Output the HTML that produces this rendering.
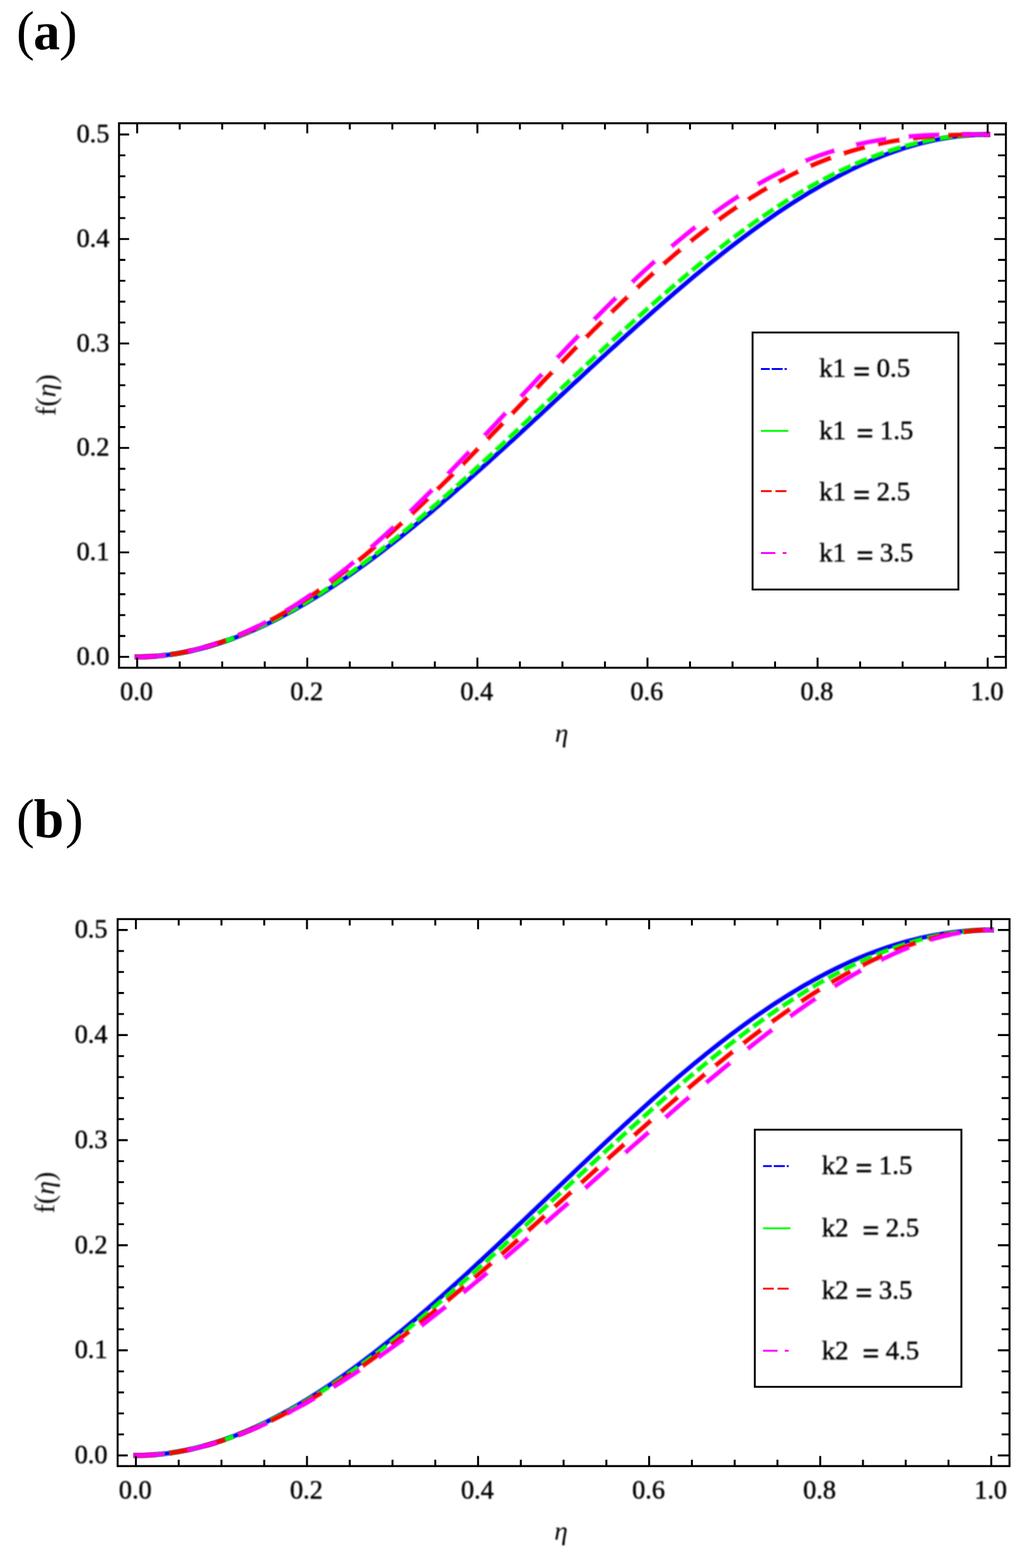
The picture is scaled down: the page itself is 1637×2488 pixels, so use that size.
<!DOCTYPE html>
<html lang="en">
<head>
<meta charset="utf-8">
<title>f(η) profiles for k1 and k2</title>
<style>
html,body{margin:0;padding:0;background:#fff;}
body{width:1637px;height:2488px;overflow:hidden;font-family:'Liberation Serif','DejaVu Serif',serif;}
svg{display:block;}
</style>
</head>
<body>
<svg width="1637" height="2488" viewBox="0 0 1637 2488">
<defs>
<filter id="softt" filterUnits="userSpaceOnUse" x="0" y="0" width="1637" height="2488"><feGaussianBlur stdDeviation="1.0"/></filter>
</defs>
<rect width="1637" height="2488" fill="#fff"/>
<g id="plot-a">
<g fill="none">
<path d="M213.2 1042.3 217.6 1042.3 223.2 1042.3 228.8 1042.1 234.5 1041.9 240.1 1041.6 245.7 1041.2 251.3 1040.8 256.9 1040.2 262.6 1039.6 268.2 1038.9 273.8 1038.1 279.4 1037.2 285.1 1036.3 290.7 1035.3 296.3 1034.2 301.9 1033.0 307.5 1031.7 313.2 1030.4 318.8 1029.0 324.4 1027.5 330.0 1026.0 335.6 1024.3 341.3 1022.7 346.9 1020.9 352.5 1019.1 358.1 1017.1 363.8 1015.2 369.4 1013.1 375.0 1011.0 380.6 1008.8 386.2 1006.6 391.9 1004.3 397.5 1001.9 403.1 999.5 408.7 997.0 414.3 994.4 420.0 991.8 425.6 989.1 431.2 986.4 436.8 983.6 442.5 980.7 448.1 977.8 453.7 974.8 459.3 971.8 464.9 968.7 470.6 965.5 476.2 962.3 481.8 959.1 487.4 955.8 493.0 952.4 498.7 949.0 504.3 945.5 509.9 942.0 515.5 938.5 521.1 934.9 526.8 931.2 532.4 927.5 538.0 923.7 543.6 919.9 549.3 916.1 554.9 912.2 560.5 908.3 566.1 904.3 571.7 900.3 577.4 896.2 583.0 892.1 588.6 888.0 594.2 883.8 599.8 879.6 605.5 875.3 611.1 871.0 616.7 866.7 622.3 862.3 628.0 857.9 633.6 853.5 639.2 849.0 644.8 844.5 650.4 840.0 656.1 835.4 661.7 830.8 667.3 826.2 672.9 821.6 678.5 816.9 684.2 812.2 689.8 807.4 695.4 802.7 701.0 797.9 706.6 793.1 712.3 788.2 717.9 783.4 723.5 778.5 729.1 773.6 734.8 768.7 740.4 763.7 746.0 758.8 751.6 753.8 757.2 748.8 762.9 743.8 768.5 738.7 774.1 733.7 779.7 728.6 785.3 723.5 791.0 718.4 796.6 713.3 802.2 708.2 807.8 703.1 813.5 698.0 819.1 692.8 824.7 687.7 830.3 682.5 835.9 677.3 841.6 672.1 847.2 666.9 852.8 661.8 858.4 656.6 864.0 651.4 869.7 646.2 875.3 640.9 880.9 635.7 886.5 630.5 892.2 625.3 897.8 620.1 903.4 614.9 909.0 609.7 914.6 604.5 920.3 599.3 925.9 594.1 931.5 588.9 937.1 583.7 942.7 578.6 948.4 573.4 954.0 568.2 959.6 563.1 965.2 557.9 970.8 552.8 976.5 547.7 982.1 542.6 987.7 537.5 993.3 532.4 999.0 527.3 1004.6 522.3 1010.2 517.2 1015.8 512.2 1021.4 507.2 1027.1 502.2 1032.7 497.3 1038.3 492.3 1043.9 487.4 1049.5 482.5 1055.2 477.6 1060.8 472.7 1066.4 467.9 1072.0 463.0 1077.7 458.2 1083.3 453.5 1088.9 448.7 1094.5 444.0 1100.1 439.3 1105.8 434.6 1111.4 430.0 1117.0 425.4 1122.6 420.8 1128.2 416.3 1133.9 411.8 1139.5 407.3 1145.1 402.8 1150.7 398.4 1156.3 394.0 1162.0 389.7 1167.6 385.4 1173.2 381.1 1178.8 376.9 1184.5 372.7 1190.1 368.5 1195.7 364.4 1201.3 360.3 1206.9 356.3 1212.6 352.3 1218.2 348.3 1223.8 344.4 1229.4 340.5 1235.0 336.7 1240.7 332.9 1246.3 329.2 1251.9 325.5 1257.5 321.8 1263.2 318.2 1268.8 314.7 1274.4 311.2 1280.0 307.7 1285.6 304.3 1291.3 301.0 1296.9 297.7 1302.5 294.5 1308.1 291.3 1313.7 288.1 1319.4 285.1 1325.0 282.0 1330.6 279.1 1336.2 276.1 1341.9 273.3 1347.5 270.5 1353.1 267.7 1358.7 265.1 1364.3 262.4 1370.0 259.9 1375.6 257.4 1381.2 255.0 1386.8 252.6 1392.4 250.3 1398.1 248.0 1403.7 245.8 1409.3 243.7 1414.9 241.7 1420.5 239.7 1426.2 237.8 1431.8 235.9 1437.4 234.1 1443.0 232.4 1448.7 230.8 1454.3 229.2 1459.9 227.7 1465.5 226.3 1471.1 224.9 1476.8 223.6 1482.4 222.4 1488.0 221.3 1493.6 220.2 1499.2 219.2 1504.9 218.3 1510.5 217.4 1516.1 216.7 1521.7 216.0 1527.4 215.4 1533.0 214.9 1538.6 214.4 1544.2 214.1 1549.8 213.8 1555.5 213.6 1561.1 213.4 1566.7 213.4 1571.0 213.4" stroke="#0000ff" stroke-width="8.6" stroke-opacity="0.5"/>
<path d="M214.9 1042.3 217.6 1042.3 223.2 1042.3 228.8 1042.1 234.5 1041.9 240.1 1041.6 245.7 1041.2 251.3 1040.8 256.9 1040.2 262.6 1039.6 268.2 1038.9 273.8 1038.1 279.4 1037.2 285.1 1036.3 290.7 1035.3 296.3 1034.2 301.9 1033.0 307.5 1031.7 313.2 1030.4 318.8 1029.0 324.4 1027.5 330.0 1026.0 335.6 1024.3 341.3 1022.7 346.9 1020.9 352.5 1019.1 358.1 1017.1 363.8 1015.2 369.4 1013.1 375.0 1011.0 380.6 1008.8 386.2 1006.6 391.9 1004.3 397.5 1001.9 403.1 999.5 408.7 997.0 414.3 994.4 420.0 991.8 425.6 989.1 431.2 986.4 436.8 983.6 442.5 980.7 448.1 977.8 453.7 974.8 459.3 971.8 464.9 968.7 470.6 965.5 476.2 962.3 481.8 959.1 487.4 955.8 493.0 952.4 498.7 949.0 504.3 945.5 509.9 942.0 515.5 938.5 521.1 934.9 526.8 931.2 532.4 927.5 538.0 923.7 543.6 919.9 549.3 916.1 554.9 912.2 560.5 908.3 566.1 904.3 571.7 900.3 577.4 896.2 583.0 892.1 588.6 888.0 594.2 883.8 599.8 879.6 605.5 875.3 611.1 871.0 616.7 866.7 622.3 862.3 628.0 857.9 633.6 853.5 639.2 849.0 644.8 844.5 650.4 840.0 656.1 835.4 661.7 830.8 667.3 826.2 672.9 821.6 678.5 816.9 684.2 812.2 689.8 807.4 695.4 802.7 701.0 797.9 706.6 793.1 712.3 788.2 717.9 783.4 723.5 778.5 729.1 773.6 734.8 768.7 740.4 763.7 746.0 758.8 751.6 753.8 757.2 748.8 762.9 743.8 768.5 738.7 774.1 733.7 779.7 728.6 785.3 723.5 791.0 718.4 796.6 713.3 802.2 708.2 807.8 703.1 813.5 698.0 819.1 692.8 824.7 687.7 830.3 682.5 835.9 677.3 841.6 672.1 847.2 666.9 852.8 661.8 858.4 656.6 864.0 651.4 869.7 646.2 875.3 640.9 880.9 635.7 886.5 630.5 892.2 625.3 897.8 620.1 903.4 614.9 909.0 609.7 914.6 604.5 920.3 599.3 925.9 594.1 931.5 588.9 937.1 583.7 942.7 578.6 948.4 573.4 954.0 568.2 959.6 563.1 965.2 557.9 970.8 552.8 976.5 547.7 982.1 542.6 987.7 537.5 993.3 532.4 999.0 527.3 1004.6 522.3 1010.2 517.2 1015.8 512.2 1021.4 507.2 1027.1 502.2 1032.7 497.3 1038.3 492.3 1043.9 487.4 1049.5 482.5 1055.2 477.6 1060.8 472.7 1066.4 467.9 1072.0 463.0 1077.7 458.2 1083.3 453.5 1088.9 448.7 1094.5 444.0 1100.1 439.3 1105.8 434.6 1111.4 430.0 1117.0 425.4 1122.6 420.8 1128.2 416.3 1133.9 411.8 1139.5 407.3 1145.1 402.8 1150.7 398.4 1156.3 394.0 1162.0 389.7 1167.6 385.4 1173.2 381.1 1178.8 376.9 1184.5 372.7 1190.1 368.5 1195.7 364.4 1201.3 360.3 1206.9 356.3 1212.6 352.3 1218.2 348.3 1223.8 344.4 1229.4 340.5 1235.0 336.7 1240.7 332.9 1246.3 329.2 1251.9 325.5 1257.5 321.8 1263.2 318.2 1268.8 314.7 1274.4 311.2 1280.0 307.7 1285.6 304.3 1291.3 301.0 1296.9 297.7 1302.5 294.5 1308.1 291.3 1313.7 288.1 1319.4 285.1 1325.0 282.0 1330.6 279.1 1336.2 276.1 1341.9 273.3 1347.5 270.5 1353.1 267.7 1358.7 265.1 1364.3 262.4 1370.0 259.9 1375.6 257.4 1381.2 255.0 1386.8 252.6 1392.4 250.3 1398.1 248.0 1403.7 245.8 1409.3 243.7 1414.9 241.7 1420.5 239.7 1426.2 237.8 1431.8 235.9 1437.4 234.1 1443.0 232.4 1448.7 230.8 1454.3 229.2 1459.9 227.7 1465.5 226.3 1471.1 224.9 1476.8 223.6 1482.4 222.4 1488.0 221.3 1493.6 220.2 1499.2 219.2 1504.9 218.3 1510.5 217.4 1516.1 216.7 1521.7 216.0 1527.4 215.4 1533.0 214.9 1538.6 214.4 1544.2 214.1 1549.8 213.8 1555.5 213.6 1561.1 213.4 1566.7 213.4 1569.4 213.4" stroke="#0000ff" stroke-width="5.2"/>
<path d="M213.2 1042.3 217.6 1042.3 223.2 1042.3 228.8 1042.1 234.5 1041.9 240.1 1041.6 245.7 1041.2 251.3 1040.8 256.9 1040.2 262.6 1039.6 268.2 1038.9 273.8 1038.1 279.4 1037.2 285.1 1036.3 290.7 1035.2 296.3 1034.1 301.9 1032.9 307.5 1031.7 313.2 1030.3 318.8 1028.9 324.4 1027.4 330.0 1025.9 335.6 1024.2 341.3 1022.5 346.9 1020.7 352.5 1018.9 358.1 1017.0 363.8 1015.0 369.4 1012.9 375.0 1010.8 380.6 1008.5 386.2 1006.3 391.9 1003.9 397.5 1001.5 403.1 999.0 408.7 996.5 414.3 993.9 420.0 991.2 425.6 988.5 431.2 985.7 436.8 982.9 442.5 979.9 448.1 977.0 453.7 973.9 459.3 970.8 464.9 967.7 470.6 964.5 476.2 961.2 481.8 957.9 487.4 954.5 493.0 951.0 498.7 947.5 504.3 944.0 509.9 940.4 515.5 936.7 521.1 933.0 526.8 929.3 532.4 925.5 538.0 921.6 543.6 917.7 549.3 913.8 554.9 909.8 560.5 905.8 566.1 901.7 571.7 897.6 577.4 893.4 583.0 889.2 588.6 884.9 594.2 880.6 599.8 876.3 605.5 871.9 611.1 867.5 616.7 863.0 622.3 858.5 628.0 854.0 633.6 849.4 639.2 844.8 644.8 840.2 650.4 835.5 656.1 830.8 661.7 826.1 667.3 821.3 672.9 816.5 678.5 811.7 684.2 806.8 689.8 802.0 695.4 797.1 701.0 792.1 706.6 787.2 712.3 782.2 717.9 777.2 723.5 772.1 729.1 767.1 734.8 762.0 740.4 756.9 746.0 751.8 751.6 746.7 757.2 741.5 762.9 736.4 768.5 731.2 774.1 726.0 779.7 720.8 785.3 715.5 791.0 710.3 796.6 705.1 802.2 699.8 807.8 694.5 813.5 689.2 819.1 684.0 824.7 678.7 830.3 673.4 835.9 668.0 841.6 662.7 847.2 657.4 852.8 652.1 858.4 646.8 864.0 641.4 869.7 636.1 875.3 630.8 880.9 625.5 886.5 620.1 892.2 614.8 897.8 609.5 903.4 604.2 909.0 598.9 914.6 593.6 920.3 588.3 925.9 583.0 931.5 577.7 937.1 572.4 942.7 567.1 948.4 561.9 954.0 556.6 959.6 551.4 965.2 546.2 970.8 541.0 976.5 535.8 982.1 530.6 987.7 525.5 993.3 520.4 999.0 515.2 1004.6 510.1 1010.2 505.1 1015.8 500.0 1021.4 495.0 1027.1 489.9 1032.7 484.9 1038.3 480.0 1043.9 475.0 1049.5 470.1 1055.2 465.2 1060.8 460.3 1066.4 455.5 1072.0 450.7 1077.7 445.9 1083.3 441.2 1088.9 436.4 1094.5 431.7 1100.1 427.1 1105.8 422.5 1111.4 417.9 1117.0 413.3 1122.6 408.8 1128.2 404.3 1133.9 399.9 1139.5 395.4 1145.1 391.1 1150.7 386.7 1156.3 382.4 1162.0 378.2 1167.6 374.0 1173.2 369.8 1178.8 365.7 1184.5 361.6 1190.1 357.5 1195.7 353.5 1201.3 349.6 1206.9 345.7 1212.6 341.8 1218.2 338.0 1223.8 334.2 1229.4 330.5 1235.0 326.8 1240.7 323.2 1246.3 319.6 1251.9 316.1 1257.5 312.6 1263.2 309.2 1268.8 305.8 1274.4 302.5 1280.0 299.2 1285.6 296.0 1291.3 292.9 1296.9 289.8 1302.5 286.7 1308.1 283.7 1313.7 280.8 1319.4 277.9 1325.0 275.1 1330.6 272.3 1336.2 269.6 1341.9 267.0 1347.5 264.4 1353.1 261.9 1358.7 259.4 1364.3 257.0 1370.0 254.6 1375.6 252.4 1381.2 250.1 1386.8 248.0 1392.4 245.9 1398.1 243.8 1403.7 241.9 1409.3 240.0 1414.9 238.1 1420.5 236.3 1426.2 234.6 1431.8 233.0 1437.4 231.4 1443.0 229.9 1448.7 228.4 1454.3 227.0 1459.9 225.7 1465.5 224.5 1471.1 223.3 1476.8 222.1 1482.4 221.1 1488.0 220.1 1493.6 219.2 1499.2 218.3 1504.9 217.5 1510.5 216.8 1516.1 216.2 1521.7 215.6 1527.4 215.1 1533.0 214.6 1538.6 214.3 1544.2 213.9 1549.8 213.7 1555.5 213.5 1561.1 213.4 1566.7 213.4 1571.0 213.4" stroke="#00ff00" stroke-width="8.6" stroke-opacity="0.5" stroke-dasharray="21.77 6.37" stroke-dashoffset="-0.50"/>
<path d="M214.9 1042.3 217.6 1042.3 223.2 1042.3 228.8 1042.1 234.5 1041.9 240.1 1041.6 245.7 1041.2 251.3 1040.8 256.9 1040.2 262.6 1039.6 268.2 1038.9 273.8 1038.1 279.4 1037.2 285.1 1036.3 290.7 1035.2 296.3 1034.1 301.9 1032.9 307.5 1031.7 313.2 1030.3 318.8 1028.9 324.4 1027.4 330.0 1025.9 335.6 1024.2 341.3 1022.5 346.9 1020.7 352.5 1018.9 358.1 1017.0 363.8 1015.0 369.4 1012.9 375.0 1010.8 380.6 1008.5 386.2 1006.3 391.9 1003.9 397.5 1001.5 403.1 999.0 408.7 996.5 414.3 993.9 420.0 991.2 425.6 988.5 431.2 985.7 436.8 982.9 442.5 979.9 448.1 977.0 453.7 973.9 459.3 970.8 464.9 967.7 470.6 964.5 476.2 961.2 481.8 957.9 487.4 954.5 493.0 951.0 498.7 947.5 504.3 944.0 509.9 940.4 515.5 936.7 521.1 933.0 526.8 929.3 532.4 925.5 538.0 921.6 543.6 917.7 549.3 913.8 554.9 909.8 560.5 905.8 566.1 901.7 571.7 897.6 577.4 893.4 583.0 889.2 588.6 884.9 594.2 880.6 599.8 876.3 605.5 871.9 611.1 867.5 616.7 863.0 622.3 858.5 628.0 854.0 633.6 849.4 639.2 844.8 644.8 840.2 650.4 835.5 656.1 830.8 661.7 826.1 667.3 821.3 672.9 816.5 678.5 811.7 684.2 806.8 689.8 802.0 695.4 797.1 701.0 792.1 706.6 787.2 712.3 782.2 717.9 777.2 723.5 772.1 729.1 767.1 734.8 762.0 740.4 756.9 746.0 751.8 751.6 746.7 757.2 741.5 762.9 736.4 768.5 731.2 774.1 726.0 779.7 720.8 785.3 715.5 791.0 710.3 796.6 705.1 802.2 699.8 807.8 694.5 813.5 689.2 819.1 684.0 824.7 678.7 830.3 673.4 835.9 668.0 841.6 662.7 847.2 657.4 852.8 652.1 858.4 646.8 864.0 641.4 869.7 636.1 875.3 630.8 880.9 625.5 886.5 620.1 892.2 614.8 897.8 609.5 903.4 604.2 909.0 598.9 914.6 593.6 920.3 588.3 925.9 583.0 931.5 577.7 937.1 572.4 942.7 567.1 948.4 561.9 954.0 556.6 959.6 551.4 965.2 546.2 970.8 541.0 976.5 535.8 982.1 530.6 987.7 525.5 993.3 520.4 999.0 515.2 1004.6 510.1 1010.2 505.1 1015.8 500.0 1021.4 495.0 1027.1 489.9 1032.7 484.9 1038.3 480.0 1043.9 475.0 1049.5 470.1 1055.2 465.2 1060.8 460.3 1066.4 455.5 1072.0 450.7 1077.7 445.9 1083.3 441.2 1088.9 436.4 1094.5 431.7 1100.1 427.1 1105.8 422.5 1111.4 417.9 1117.0 413.3 1122.6 408.8 1128.2 404.3 1133.9 399.9 1139.5 395.4 1145.1 391.1 1150.7 386.7 1156.3 382.4 1162.0 378.2 1167.6 374.0 1173.2 369.8 1178.8 365.7 1184.5 361.6 1190.1 357.5 1195.7 353.5 1201.3 349.6 1206.9 345.7 1212.6 341.8 1218.2 338.0 1223.8 334.2 1229.4 330.5 1235.0 326.8 1240.7 323.2 1246.3 319.6 1251.9 316.1 1257.5 312.6 1263.2 309.2 1268.8 305.8 1274.4 302.5 1280.0 299.2 1285.6 296.0 1291.3 292.9 1296.9 289.8 1302.5 286.7 1308.1 283.7 1313.7 280.8 1319.4 277.9 1325.0 275.1 1330.6 272.3 1336.2 269.6 1341.9 267.0 1347.5 264.4 1353.1 261.9 1358.7 259.4 1364.3 257.0 1370.0 254.6 1375.6 252.4 1381.2 250.1 1386.8 248.0 1392.4 245.9 1398.1 243.8 1403.7 241.9 1409.3 240.0 1414.9 238.1 1420.5 236.3 1426.2 234.6 1431.8 233.0 1437.4 231.4 1443.0 229.9 1448.7 228.4 1454.3 227.0 1459.9 225.7 1465.5 224.5 1471.1 223.3 1476.8 222.1 1482.4 221.1 1488.0 220.1 1493.6 219.2 1499.2 218.3 1504.9 217.5 1510.5 216.8 1516.1 216.2 1521.7 215.6 1527.4 215.1 1533.0 214.6 1538.6 214.3 1544.2 213.9 1549.8 213.7 1555.5 213.5 1561.1 213.4 1566.7 213.4 1569.4 213.4" stroke="#00ff00" stroke-width="5.2" stroke-dasharray="18.37 9.77" stroke-dashoffset="-0.50"/>
<path d="M213.2 1042.3 217.6 1042.3 223.2 1042.3 228.8 1042.1 234.5 1041.9 240.1 1041.6 245.7 1041.2 251.3 1040.8 256.9 1040.2 262.6 1039.6 268.2 1038.9 273.8 1038.0 279.4 1037.2 285.1 1036.2 290.7 1035.1 296.3 1034.0 301.9 1032.8 307.5 1031.5 313.2 1030.1 318.8 1028.7 324.4 1027.1 330.0 1025.5 335.6 1023.8 341.3 1022.0 346.9 1020.2 352.5 1018.2 358.1 1016.2 363.8 1014.1 369.4 1011.9 375.0 1009.7 380.6 1007.4 386.2 1005.0 391.9 1002.5 397.5 999.9 403.1 997.3 408.7 994.6 414.3 991.8 420.0 989.0 425.6 986.1 431.2 983.1 436.8 980.0 442.5 976.9 448.1 973.7 453.7 970.4 459.3 967.1 464.9 963.7 470.6 960.2 476.2 956.6 481.8 953.0 487.4 949.3 493.0 945.6 498.7 941.8 504.3 937.9 509.9 934.0 515.5 930.0 521.1 925.9 526.8 921.8 532.4 917.7 538.0 913.4 543.6 909.1 549.3 904.8 554.9 900.4 560.5 895.9 566.1 891.4 571.7 886.9 577.4 882.2 583.0 877.6 588.6 872.8 594.2 868.1 599.8 863.3 605.5 858.4 611.1 853.5 616.7 848.5 622.3 843.5 628.0 838.5 633.6 833.4 639.2 828.3 644.8 823.1 650.4 817.9 656.1 812.7 661.7 807.4 667.3 802.1 672.9 796.7 678.5 791.3 684.2 785.9 689.8 780.5 695.4 775.0 701.0 769.5 706.6 764.0 712.3 758.4 717.9 752.8 723.5 747.2 729.1 741.6 734.8 735.9 740.4 730.2 746.0 724.5 751.6 718.8 757.2 713.1 762.9 707.3 768.5 701.6 774.1 695.8 779.7 690.0 785.3 684.2 791.0 678.4 796.6 672.6 802.2 666.8 807.8 660.9 813.5 655.1 819.1 649.3 824.7 643.4 830.3 637.6 835.9 631.7 841.6 625.9 847.2 620.0 852.8 614.2 858.4 608.4 864.0 602.6 869.7 596.7 875.3 590.9 880.9 585.1 886.5 579.3 892.2 573.6 897.8 567.8 903.4 562.1 909.0 556.3 914.6 550.6 920.3 544.9 925.9 539.2 931.5 533.6 937.1 528.0 942.7 522.3 948.4 516.8 954.0 511.2 959.6 505.7 965.2 500.2 970.8 494.7 976.5 489.2 982.1 483.8 987.7 478.4 993.3 473.1 999.0 467.8 1004.6 462.5 1010.2 457.3 1015.8 452.1 1021.4 446.9 1027.1 441.8 1032.7 436.7 1038.3 431.6 1043.9 426.6 1049.5 421.7 1055.2 416.8 1060.8 411.9 1066.4 407.1 1072.0 402.3 1077.7 397.6 1083.3 392.9 1088.9 388.3 1094.5 383.7 1100.1 379.2 1105.8 374.7 1111.4 370.3 1117.0 366.0 1122.6 361.7 1128.2 357.4 1133.9 353.2 1139.5 349.1 1145.1 345.0 1150.7 341.0 1156.3 337.0 1162.0 333.1 1167.6 329.3 1173.2 325.5 1178.8 321.8 1184.5 318.1 1190.1 314.5 1195.7 311.0 1201.3 307.6 1206.9 304.1 1212.6 300.8 1218.2 297.5 1223.8 294.3 1229.4 291.2 1235.0 288.1 1240.7 285.1 1246.3 282.2 1251.9 279.3 1257.5 276.5 1263.2 273.7 1268.8 271.0 1274.4 268.4 1280.0 265.9 1285.6 263.4 1291.3 261.0 1296.9 258.6 1302.5 256.4 1308.1 254.2 1313.7 252.0 1319.4 249.9 1325.0 247.9 1330.6 246.0 1336.2 244.1 1341.9 242.3 1347.5 240.5 1353.1 238.8 1358.7 237.2 1364.3 235.6 1370.0 234.1 1375.6 232.7 1381.2 231.3 1386.8 230.0 1392.4 228.7 1398.1 227.5 1403.7 226.4 1409.3 225.3 1414.9 224.3 1420.5 223.3 1426.2 222.4 1431.8 221.5 1437.4 220.7 1443.0 219.9 1448.7 219.2 1454.3 218.6 1459.9 218.0 1465.5 217.4 1471.1 216.9 1476.8 216.4 1482.4 216.0 1488.0 215.6 1493.6 215.2 1499.2 214.9 1504.9 214.6 1510.5 214.4 1516.1 214.2 1521.7 214.0 1527.4 213.8 1533.0 213.7 1538.6 213.6 1544.2 213.5 1549.8 213.5 1555.5 213.4 1561.1 213.4 1566.7 213.4 1571.0 213.4" stroke="#ff0000" stroke-width="8.6" stroke-opacity="0.5" stroke-dasharray="35.84 20.44" stroke-dashoffset="-0.50"/>
<path d="M214.9 1042.3 217.6 1042.3 223.2 1042.3 228.8 1042.1 234.5 1041.9 240.1 1041.6 245.7 1041.2 251.3 1040.8 256.9 1040.2 262.6 1039.6 268.2 1038.9 273.8 1038.0 279.4 1037.2 285.1 1036.2 290.7 1035.1 296.3 1034.0 301.9 1032.8 307.5 1031.5 313.2 1030.1 318.8 1028.7 324.4 1027.1 330.0 1025.5 335.6 1023.8 341.3 1022.0 346.9 1020.2 352.5 1018.2 358.1 1016.2 363.8 1014.1 369.4 1011.9 375.0 1009.7 380.6 1007.4 386.2 1005.0 391.9 1002.5 397.5 999.9 403.1 997.3 408.7 994.6 414.3 991.8 420.0 989.0 425.6 986.1 431.2 983.1 436.8 980.0 442.5 976.9 448.1 973.7 453.7 970.4 459.3 967.1 464.9 963.7 470.6 960.2 476.2 956.6 481.8 953.0 487.4 949.3 493.0 945.6 498.7 941.8 504.3 937.9 509.9 934.0 515.5 930.0 521.1 925.9 526.8 921.8 532.4 917.7 538.0 913.4 543.6 909.1 549.3 904.8 554.9 900.4 560.5 895.9 566.1 891.4 571.7 886.9 577.4 882.2 583.0 877.6 588.6 872.8 594.2 868.1 599.8 863.3 605.5 858.4 611.1 853.5 616.7 848.5 622.3 843.5 628.0 838.5 633.6 833.4 639.2 828.3 644.8 823.1 650.4 817.9 656.1 812.7 661.7 807.4 667.3 802.1 672.9 796.7 678.5 791.3 684.2 785.9 689.8 780.5 695.4 775.0 701.0 769.5 706.6 764.0 712.3 758.4 717.9 752.8 723.5 747.2 729.1 741.6 734.8 735.9 740.4 730.2 746.0 724.5 751.6 718.8 757.2 713.1 762.9 707.3 768.5 701.6 774.1 695.8 779.7 690.0 785.3 684.2 791.0 678.4 796.6 672.6 802.2 666.8 807.8 660.9 813.5 655.1 819.1 649.3 824.7 643.4 830.3 637.6 835.9 631.7 841.6 625.9 847.2 620.0 852.8 614.2 858.4 608.4 864.0 602.6 869.7 596.7 875.3 590.9 880.9 585.1 886.5 579.3 892.2 573.6 897.8 567.8 903.4 562.1 909.0 556.3 914.6 550.6 920.3 544.9 925.9 539.2 931.5 533.6 937.1 528.0 942.7 522.3 948.4 516.8 954.0 511.2 959.6 505.7 965.2 500.2 970.8 494.7 976.5 489.2 982.1 483.8 987.7 478.4 993.3 473.1 999.0 467.8 1004.6 462.5 1010.2 457.3 1015.8 452.1 1021.4 446.9 1027.1 441.8 1032.7 436.7 1038.3 431.6 1043.9 426.6 1049.5 421.7 1055.2 416.8 1060.8 411.9 1066.4 407.1 1072.0 402.3 1077.7 397.6 1083.3 392.9 1088.9 388.3 1094.5 383.7 1100.1 379.2 1105.8 374.7 1111.4 370.3 1117.0 366.0 1122.6 361.7 1128.2 357.4 1133.9 353.2 1139.5 349.1 1145.1 345.0 1150.7 341.0 1156.3 337.0 1162.0 333.1 1167.6 329.3 1173.2 325.5 1178.8 321.8 1184.5 318.1 1190.1 314.5 1195.7 311.0 1201.3 307.6 1206.9 304.1 1212.6 300.8 1218.2 297.5 1223.8 294.3 1229.4 291.2 1235.0 288.1 1240.7 285.1 1246.3 282.2 1251.9 279.3 1257.5 276.5 1263.2 273.7 1268.8 271.0 1274.4 268.4 1280.0 265.9 1285.6 263.4 1291.3 261.0 1296.9 258.6 1302.5 256.4 1308.1 254.2 1313.7 252.0 1319.4 249.9 1325.0 247.9 1330.6 246.0 1336.2 244.1 1341.9 242.3 1347.5 240.5 1353.1 238.8 1358.7 237.2 1364.3 235.6 1370.0 234.1 1375.6 232.7 1381.2 231.3 1386.8 230.0 1392.4 228.7 1398.1 227.5 1403.7 226.4 1409.3 225.3 1414.9 224.3 1420.5 223.3 1426.2 222.4 1431.8 221.5 1437.4 220.7 1443.0 219.9 1448.7 219.2 1454.3 218.6 1459.9 218.0 1465.5 217.4 1471.1 216.9 1476.8 216.4 1482.4 216.0 1488.0 215.6 1493.6 215.2 1499.2 214.9 1504.9 214.6 1510.5 214.4 1516.1 214.2 1521.7 214.0 1527.4 213.8 1533.0 213.7 1538.6 213.6 1544.2 213.5 1549.8 213.5 1555.5 213.4 1561.1 213.4 1566.7 213.4 1569.4 213.4" stroke="#ff0000" stroke-width="5.2" stroke-dasharray="32.44 23.84" stroke-dashoffset="-0.50"/>
<path d="M213.2 1042.3 217.6 1042.3 223.2 1042.3 228.8 1042.1 234.5 1041.9 240.1 1041.6 245.7 1041.2 251.3 1040.8 256.9 1040.2 262.6 1039.6 268.2 1038.8 273.8 1038.0 279.4 1037.1 285.1 1036.2 290.7 1035.1 296.3 1034.0 301.9 1032.7 307.5 1031.4 313.2 1030.0 318.8 1028.6 324.4 1027.0 330.0 1025.4 335.6 1023.6 341.3 1021.8 346.9 1020.0 352.5 1018.0 358.1 1015.9 363.8 1013.8 369.4 1011.6 375.0 1009.3 380.6 1007.0 386.2 1004.5 391.9 1002.0 397.5 999.4 403.1 996.7 408.7 994.0 414.3 991.1 420.0 988.2 425.6 985.2 431.2 982.2 436.8 979.0 442.5 975.8 448.1 972.5 453.7 969.2 459.3 965.8 464.9 962.3 470.6 958.7 476.2 955.0 481.8 951.3 487.4 947.6 493.0 943.7 498.7 939.8 504.3 935.8 509.9 931.8 515.5 927.7 521.1 923.5 526.8 919.2 532.4 914.9 538.0 910.6 543.6 906.1 549.3 901.7 554.9 897.1 560.5 892.5 566.1 887.9 571.7 883.1 577.4 878.4 583.0 873.5 588.6 868.7 594.2 863.7 599.8 858.8 605.5 853.7 611.1 848.6 616.7 843.5 622.3 838.3 628.0 833.1 633.6 827.9 639.2 822.6 644.8 817.2 650.4 811.8 656.1 806.4 661.7 800.9 667.3 795.4 672.9 789.9 678.5 784.3 684.2 778.7 689.8 773.0 695.4 767.4 701.0 761.7 706.6 755.9 712.3 750.2 717.9 744.4 723.5 738.6 729.1 732.7 734.8 726.9 740.4 721.0 746.0 715.1 751.6 709.2 757.2 703.2 762.9 697.3 768.5 691.3 774.1 685.3 779.7 679.4 785.3 673.4 791.0 667.3 796.6 661.3 802.2 655.3 807.8 649.3 813.5 643.3 819.1 637.2 824.7 631.2 830.3 625.2 835.9 619.1 841.6 613.1 847.2 607.1 852.8 601.1 858.4 595.1 864.0 589.1 869.7 583.1 875.3 577.1 880.9 571.1 886.5 565.2 892.2 559.3 897.8 553.3 903.4 547.4 909.0 541.6 914.6 535.7 920.3 529.9 925.9 524.1 931.5 518.3 937.1 512.5 942.7 506.8 948.4 501.1 954.0 495.4 959.6 489.8 965.2 484.2 970.8 478.6 976.5 473.1 982.1 467.6 987.7 462.1 993.3 456.7 999.0 451.3 1004.6 446.0 1010.2 440.7 1015.8 435.4 1021.4 430.2 1027.1 425.1 1032.7 419.9 1038.3 414.9 1043.9 409.8 1049.5 404.9 1055.2 400.0 1060.8 395.1 1066.4 390.3 1072.0 385.5 1077.7 380.8 1083.3 376.2 1088.9 371.6 1094.5 367.1 1100.1 362.6 1105.8 358.2 1111.4 353.8 1117.0 349.5 1122.6 345.3 1128.2 341.1 1133.9 337.0 1139.5 333.0 1145.1 329.0 1150.7 325.1 1156.3 321.3 1162.0 317.5 1167.6 313.8 1173.2 310.1 1178.8 306.6 1184.5 303.1 1190.1 299.6 1195.7 296.3 1201.3 293.0 1206.9 289.7 1212.6 286.6 1218.2 283.5 1223.8 280.5 1229.4 277.6 1235.0 274.7 1240.7 271.9 1246.3 269.2 1251.9 266.5 1257.5 263.9 1263.2 261.4 1268.8 259.0 1274.4 256.6 1280.0 254.3 1285.6 252.1 1291.3 249.9 1296.9 247.8 1302.5 245.8 1308.1 243.9 1313.7 242.0 1319.4 240.2 1325.0 238.5 1330.6 236.8 1336.2 235.2 1341.9 233.7 1347.5 232.2 1353.1 230.8 1358.7 229.5 1364.3 228.2 1370.0 227.0 1375.6 225.8 1381.2 224.7 1386.8 223.7 1392.4 222.8 1398.1 221.8 1403.7 221.0 1409.3 220.2 1414.9 219.4 1420.5 218.8 1426.2 218.1 1431.8 217.5 1437.4 217.0 1443.0 216.5 1448.7 216.0 1454.3 215.6 1459.9 215.3 1465.5 214.9 1471.1 214.6 1476.8 214.4 1482.4 214.2 1488.0 214.0 1493.6 213.8 1499.2 213.7 1504.9 213.6 1510.5 213.5 1516.1 213.5 1521.7 213.4 1527.4 213.4 1533.0 213.4 1538.6 213.4 1544.2 213.4 1549.8 213.4 1555.5 213.4 1561.1 213.4 1566.7 213.4 1571.0 213.4" stroke="#ff00ff" stroke-width="8.6" stroke-opacity="0.5" stroke-dasharray="49.90 34.50" stroke-dashoffset="-0.50"/>
<path d="M214.9 1042.3 217.6 1042.3 223.2 1042.3 228.8 1042.1 234.5 1041.9 240.1 1041.6 245.7 1041.2 251.3 1040.8 256.9 1040.2 262.6 1039.6 268.2 1038.8 273.8 1038.0 279.4 1037.1 285.1 1036.2 290.7 1035.1 296.3 1034.0 301.9 1032.7 307.5 1031.4 313.2 1030.0 318.8 1028.6 324.4 1027.0 330.0 1025.4 335.6 1023.6 341.3 1021.8 346.9 1020.0 352.5 1018.0 358.1 1015.9 363.8 1013.8 369.4 1011.6 375.0 1009.3 380.6 1007.0 386.2 1004.5 391.9 1002.0 397.5 999.4 403.1 996.7 408.7 994.0 414.3 991.1 420.0 988.2 425.6 985.2 431.2 982.2 436.8 979.0 442.5 975.8 448.1 972.5 453.7 969.2 459.3 965.8 464.9 962.3 470.6 958.7 476.2 955.0 481.8 951.3 487.4 947.6 493.0 943.7 498.7 939.8 504.3 935.8 509.9 931.8 515.5 927.7 521.1 923.5 526.8 919.2 532.4 914.9 538.0 910.6 543.6 906.1 549.3 901.7 554.9 897.1 560.5 892.5 566.1 887.9 571.7 883.1 577.4 878.4 583.0 873.5 588.6 868.7 594.2 863.7 599.8 858.8 605.5 853.7 611.1 848.6 616.7 843.5 622.3 838.3 628.0 833.1 633.6 827.9 639.2 822.6 644.8 817.2 650.4 811.8 656.1 806.4 661.7 800.9 667.3 795.4 672.9 789.9 678.5 784.3 684.2 778.7 689.8 773.0 695.4 767.4 701.0 761.7 706.6 755.9 712.3 750.2 717.9 744.4 723.5 738.6 729.1 732.7 734.8 726.9 740.4 721.0 746.0 715.1 751.6 709.2 757.2 703.2 762.9 697.3 768.5 691.3 774.1 685.3 779.7 679.4 785.3 673.4 791.0 667.3 796.6 661.3 802.2 655.3 807.8 649.3 813.5 643.3 819.1 637.2 824.7 631.2 830.3 625.2 835.9 619.1 841.6 613.1 847.2 607.1 852.8 601.1 858.4 595.1 864.0 589.1 869.7 583.1 875.3 577.1 880.9 571.1 886.5 565.2 892.2 559.3 897.8 553.3 903.4 547.4 909.0 541.6 914.6 535.7 920.3 529.9 925.9 524.1 931.5 518.3 937.1 512.5 942.7 506.8 948.4 501.1 954.0 495.4 959.6 489.8 965.2 484.2 970.8 478.6 976.5 473.1 982.1 467.6 987.7 462.1 993.3 456.7 999.0 451.3 1004.6 446.0 1010.2 440.7 1015.8 435.4 1021.4 430.2 1027.1 425.1 1032.7 419.9 1038.3 414.9 1043.9 409.8 1049.5 404.9 1055.2 400.0 1060.8 395.1 1066.4 390.3 1072.0 385.5 1077.7 380.8 1083.3 376.2 1088.9 371.6 1094.5 367.1 1100.1 362.6 1105.8 358.2 1111.4 353.8 1117.0 349.5 1122.6 345.3 1128.2 341.1 1133.9 337.0 1139.5 333.0 1145.1 329.0 1150.7 325.1 1156.3 321.3 1162.0 317.5 1167.6 313.8 1173.2 310.1 1178.8 306.6 1184.5 303.1 1190.1 299.6 1195.7 296.3 1201.3 293.0 1206.9 289.7 1212.6 286.6 1218.2 283.5 1223.8 280.5 1229.4 277.6 1235.0 274.7 1240.7 271.9 1246.3 269.2 1251.9 266.5 1257.5 263.9 1263.2 261.4 1268.8 259.0 1274.4 256.6 1280.0 254.3 1285.6 252.1 1291.3 249.9 1296.9 247.8 1302.5 245.8 1308.1 243.9 1313.7 242.0 1319.4 240.2 1325.0 238.5 1330.6 236.8 1336.2 235.2 1341.9 233.7 1347.5 232.2 1353.1 230.8 1358.7 229.5 1364.3 228.2 1370.0 227.0 1375.6 225.8 1381.2 224.7 1386.8 223.7 1392.4 222.8 1398.1 221.8 1403.7 221.0 1409.3 220.2 1414.9 219.4 1420.5 218.8 1426.2 218.1 1431.8 217.5 1437.4 217.0 1443.0 216.5 1448.7 216.0 1454.3 215.6 1459.9 215.3 1465.5 214.9 1471.1 214.6 1476.8 214.4 1482.4 214.2 1488.0 214.0 1493.6 213.8 1499.2 213.7 1504.9 213.6 1510.5 213.5 1516.1 213.5 1521.7 213.4 1527.4 213.4 1533.0 213.4 1538.6 213.4 1544.2 213.4 1549.8 213.4 1555.5 213.4 1561.1 213.4 1566.7 213.4 1569.4 213.4" stroke="#ff00ff" stroke-width="5.2" stroke-dasharray="46.50 37.90" stroke-dashoffset="-0.50"/>
</g>
<rect x="188.8" y="195.6" width="1406.8" height="863.9" fill="none" stroke="#000" stroke-width="3.2"/>
<path d="M217.6 1059.5v-16M217.6 195.6v16M285.06 1059.5v-10M285.06 195.6v10M352.51 1059.5v-10M352.51 195.6v10M419.97 1059.5v-10M419.97 195.6v10M487.42 1059.5v-16M487.42 195.6v16M554.88 1059.5v-10M554.88 195.6v10M622.33 1059.5v-10M622.33 195.6v10M689.79 1059.5v-10M689.79 195.6v10M757.24 1059.5v-16M757.24 195.6v16M824.7 1059.5v-10M824.7 195.6v10M892.15 1059.5v-10M892.15 195.6v10M959.61 1059.5v-10M959.61 195.6v10M1027.06 1059.5v-16M1027.06 195.6v16M1094.52 1059.5v-10M1094.52 195.6v10M1161.97 1059.5v-10M1161.97 195.6v10M1229.42 1059.5v-10M1229.42 195.6v10M1296.88 1059.5v-16M1296.88 195.6v16M1364.34 1059.5v-10M1364.34 195.6v10M1431.79 1059.5v-10M1431.79 195.6v10M1499.25 1059.5v-10M1499.25 195.6v10M1566.7 1059.5v-16M1566.7 195.6v16M188.8 1042.3h16M1595.6 1042.3h-18.5M188.8 1009.14h10M1595.6 1009.14h-12.5M188.8 975.99h10M1595.6 975.99h-12.5M188.8 942.83h10M1595.6 942.83h-12.5M188.8 909.68h10M1595.6 909.68h-12.5M188.8 876.52h16M1595.6 876.52h-18.5M188.8 843.36h10M1595.6 843.36h-12.5M188.8 810.21h10M1595.6 810.21h-12.5M188.8 777.05h10M1595.6 777.05h-12.5M188.8 743.9h10M1595.6 743.9h-12.5M188.8 710.74h16M1595.6 710.74h-18.5M188.8 677.58h10M1595.6 677.58h-12.5M188.8 644.43h10M1595.6 644.43h-12.5M188.8 611.27h10M1595.6 611.27h-12.5M188.8 578.12h10M1595.6 578.12h-12.5M188.8 544.96h16M1595.6 544.96h-18.5M188.8 511.8h10M1595.6 511.8h-12.5M188.8 478.65h10M1595.6 478.65h-12.5M188.8 445.49h10M1595.6 445.49h-12.5M188.8 412.34h10M1595.6 412.34h-12.5M188.8 379.18h16M1595.6 379.18h-18.5M188.8 346.02h10M1595.6 346.02h-12.5M188.8 312.87h10M1595.6 312.87h-12.5M188.8 279.71h10M1595.6 279.71h-12.5M188.8 246.56h10M1595.6 246.56h-12.5M188.8 213.4h16M1595.6 213.4h-18.5" fill="none" stroke="#000" stroke-width="3.1"/>
<g font-family="'Liberation Serif','DejaVu Serif',serif" font-size="42.5" fill="#000" stroke="#000" stroke-width="0.7" filter="url(#softt)">
<text transform="translate(216.6 1110.8) scale(0.98 1)" text-anchor="middle">0.0</text>
<text transform="translate(486.42 1110.8) scale(0.98 1)" text-anchor="middle">0.2</text>
<text transform="translate(756.24 1110.8) scale(0.98 1)" text-anchor="middle">0.4</text>
<text transform="translate(1026.06 1110.8) scale(0.98 1)" text-anchor="middle">0.6</text>
<text transform="translate(1295.88 1110.8) scale(0.98 1)" text-anchor="middle">0.8</text>
<text transform="translate(1565.7 1110.8) scale(0.98 1)" text-anchor="middle">1.0</text>
<text transform="translate(173.6 1055) scale(0.98 1)" text-anchor="end">0.0</text>
<text transform="translate(173.6 889.22) scale(0.98 1)" text-anchor="end">0.1</text>
<text transform="translate(173.6 723.44) scale(0.98 1)" text-anchor="end">0.2</text>
<text transform="translate(173.6 557.66) scale(0.98 1)" text-anchor="end">0.3</text>
<text transform="translate(173.6 391.88) scale(0.98 1)" text-anchor="end">0.4</text>
<text transform="translate(173.6 226.1) scale(0.98 1)" text-anchor="end">0.5</text>
<text x="891" y="1176.5" text-anchor="middle" font-style="italic" font-size="43" stroke="none">η</text>
<text transform="translate(88 626.8) rotate(-90)" text-anchor="middle" font-size="44" stroke="none">f(<tspan font-style="italic">η</tspan>)</text>
</g>
<rect x="1193.8" y="527.6" width="326.4" height="407.8" fill="#fff" stroke="#000" stroke-width="3"/>
<g fill="none" stroke-width="3">
<path d="M1207 585.6h41" stroke="#0000ff" stroke-dasharray="14 3 17.5 3 3.5 100"/>
<path d="M1207 683.7h43.5" stroke="#00ff00"/>
<path d="M1207 779.2h41" stroke="#ff0000" stroke-dasharray="17 6 17.5 100"/>
<path d="M1207 877.4h41" stroke="#ff00ff" stroke-dasharray="23 11.5 6 100"/>
</g>
<g font-family="'Liberation Serif','DejaVu Serif',serif" font-size="42.5" fill="#000" stroke="#000" stroke-width="0.7" filter="url(#softt)">
<text x="1299.4" y="598.3"><tspan>k1</tspan> <tspan x="1353.35" y="604.5" font-weight="bold" font-size="48" stroke-width="0.4">=</tspan> <tspan x="1390.6" y="598.3">0.5</tspan></text>
<text x="1299.4" y="696.7"><tspan>k1</tspan> <tspan x="1358.45" y="702.9" font-weight="bold" font-size="48" stroke-width="0.4">=</tspan> <tspan x="1395.7" y="696.7">1.5</tspan></text>
<text x="1299.4" y="794.4"><tspan>k1</tspan> <tspan x="1353.35" y="800.6" font-weight="bold" font-size="48" stroke-width="0.4">=</tspan> <tspan x="1390.6" y="794.4">2.5</tspan></text>
<text x="1299.4" y="890.7"><tspan>k1</tspan> <tspan x="1358.45" y="896.9" font-weight="bold" font-size="48" stroke-width="0.4">=</tspan> <tspan x="1395.7" y="890.7">3.5</tspan></text>
</g>
<text y="77.7" font-family="'Liberation Serif','DejaVu Serif',serif" font-size="86" fill="#000"><tspan x="26">(</tspan><tspan x="52.9" font-weight="bold" font-size="84.5">a</tspan><tspan x="94.1">)</tspan></text>
</g>
<g id="plot-b">
<g fill="none">
<path d="M211.2 2309.4 215.6 2309.4 221.3 2309.4 226.9 2309.2 232.6 2309.0 238.2 2308.7 243.9 2308.3 249.5 2307.9 255.2 2307.3 260.8 2306.7 266.5 2306.0 272.1 2305.2 277.8 2304.3 283.4 2303.3 289.1 2302.3 294.7 2301.2 300.4 2300.0 306.1 2298.7 311.7 2297.3 317.4 2295.9 323.0 2294.4 328.7 2292.8 334.3 2291.2 340.0 2289.5 345.6 2287.7 351.3 2285.8 356.9 2283.8 362.6 2281.8 368.2 2279.7 373.9 2277.6 379.5 2275.3 385.2 2273.0 390.9 2270.7 396.5 2268.2 402.2 2265.7 407.8 2263.2 413.5 2260.5 419.1 2257.8 424.8 2255.1 430.4 2252.2 436.1 2249.3 441.7 2246.4 447.4 2243.4 453.0 2240.3 458.7 2237.2 464.3 2234.0 470.0 2230.7 475.7 2227.4 481.3 2224.0 487.0 2220.6 492.6 2217.1 498.3 2213.5 503.9 2210.0 509.6 2206.3 515.2 2202.6 520.9 2198.8 526.5 2195.0 532.2 2191.2 537.8 2187.3 543.5 2183.3 549.1 2179.3 554.8 2175.3 560.5 2171.1 566.1 2167.0 571.8 2162.8 577.4 2158.6 583.1 2154.3 588.7 2150.0 594.4 2145.6 600.0 2141.2 605.7 2136.7 611.3 2132.2 617.0 2127.7 622.6 2123.1 628.3 2118.5 633.9 2113.9 639.6 2109.2 645.3 2104.5 650.9 2099.8 656.6 2095.0 662.2 2090.2 667.9 2085.3 673.5 2080.5 679.2 2075.6 684.8 2070.6 690.5 2065.7 696.1 2060.7 701.8 2055.7 707.4 2050.6 713.1 2045.5 718.7 2040.5 724.4 2035.3 730.1 2030.2 735.7 2025.1 741.4 2019.9 747.0 2014.7 752.7 2009.5 758.3 2004.2 764.0 1999.0 769.6 1993.7 775.3 1988.4 780.9 1983.1 786.6 1977.8 792.2 1972.5 797.9 1967.2 803.5 1961.8 809.2 1956.5 814.9 1951.1 820.5 1945.7 826.2 1940.4 831.8 1935.0 837.5 1929.6 843.1 1924.2 848.8 1918.8 854.4 1913.4 860.1 1908.0 865.7 1902.6 871.4 1897.2 877.0 1891.8 882.7 1886.4 888.3 1881.0 894.0 1875.6 899.7 1870.2 905.3 1864.8 911.0 1859.4 916.6 1854.0 922.3 1848.7 927.9 1843.3 933.6 1838.0 939.2 1832.6 944.9 1827.3 950.5 1822.0 956.2 1816.7 961.8 1811.4 967.5 1806.1 973.1 1800.9 978.8 1795.6 984.5 1790.4 990.1 1785.2 995.8 1780.0 1001.4 1774.8 1007.1 1769.7 1012.7 1764.6 1018.4 1759.5 1024.0 1754.4 1029.7 1749.3 1035.3 1744.3 1041.0 1739.3 1046.6 1734.3 1052.3 1729.4 1057.9 1724.4 1063.6 1719.5 1069.3 1714.7 1074.9 1709.8 1080.6 1705.0 1086.2 1700.3 1091.9 1695.5 1097.5 1690.8 1103.2 1686.1 1108.8 1681.5 1114.5 1676.9 1120.1 1672.3 1125.8 1667.8 1131.4 1663.3 1137.1 1658.9 1142.7 1654.4 1148.4 1650.1 1154.1 1645.7 1159.7 1641.4 1165.4 1637.2 1171.0 1633.0 1176.7 1628.8 1182.3 1624.7 1188.0 1620.6 1193.6 1616.6 1199.3 1612.6 1204.9 1608.7 1210.6 1604.8 1216.2 1601.0 1221.9 1597.2 1227.5 1593.4 1233.2 1589.7 1238.9 1586.1 1244.5 1582.5 1250.2 1579.0 1255.8 1575.5 1261.5 1572.1 1267.1 1568.7 1272.8 1565.3 1278.4 1562.1 1284.1 1558.9 1289.7 1555.7 1295.4 1552.6 1301.0 1549.5 1306.7 1546.5 1312.3 1543.6 1318.0 1540.7 1323.7 1537.9 1329.3 1535.1 1335.0 1532.4 1340.6 1529.8 1346.3 1527.2 1351.9 1524.7 1357.6 1522.2 1363.2 1519.8 1368.9 1517.5 1374.5 1515.2 1380.2 1513.0 1385.8 1510.8 1391.5 1508.7 1397.1 1506.7 1402.8 1504.7 1408.5 1502.8 1414.1 1501.0 1419.8 1499.2 1425.4 1497.5 1431.1 1495.8 1436.7 1494.2 1442.4 1492.7 1448.0 1491.3 1453.7 1489.9 1459.3 1488.5 1465.0 1487.3 1470.6 1486.1 1476.3 1484.9 1481.9 1483.9 1487.6 1482.9 1493.3 1481.9 1498.9 1481.0 1504.6 1480.2 1510.2 1479.5 1515.9 1478.8 1521.5 1478.2 1527.2 1477.7 1532.8 1477.2 1538.5 1476.8 1544.1 1476.4 1549.8 1476.1 1555.4 1475.9 1561.1 1475.7 1566.7 1475.6 1572.4 1475.6 1576.8 1475.6" stroke="#0000ff" stroke-width="8.6" stroke-opacity="0.5"/>
<path d="M212.9 2309.4 215.6 2309.4 221.3 2309.4 226.9 2309.2 232.6 2309.0 238.2 2308.7 243.9 2308.3 249.5 2307.9 255.2 2307.3 260.8 2306.7 266.5 2306.0 272.1 2305.2 277.8 2304.3 283.4 2303.3 289.1 2302.3 294.7 2301.2 300.4 2300.0 306.1 2298.7 311.7 2297.3 317.4 2295.9 323.0 2294.4 328.7 2292.8 334.3 2291.2 340.0 2289.5 345.6 2287.7 351.3 2285.8 356.9 2283.8 362.6 2281.8 368.2 2279.7 373.9 2277.6 379.5 2275.3 385.2 2273.0 390.9 2270.7 396.5 2268.2 402.2 2265.7 407.8 2263.2 413.5 2260.5 419.1 2257.8 424.8 2255.1 430.4 2252.2 436.1 2249.3 441.7 2246.4 447.4 2243.4 453.0 2240.3 458.7 2237.2 464.3 2234.0 470.0 2230.7 475.7 2227.4 481.3 2224.0 487.0 2220.6 492.6 2217.1 498.3 2213.5 503.9 2210.0 509.6 2206.3 515.2 2202.6 520.9 2198.8 526.5 2195.0 532.2 2191.2 537.8 2187.3 543.5 2183.3 549.1 2179.3 554.8 2175.3 560.5 2171.1 566.1 2167.0 571.8 2162.8 577.4 2158.6 583.1 2154.3 588.7 2150.0 594.4 2145.6 600.0 2141.2 605.7 2136.7 611.3 2132.2 617.0 2127.7 622.6 2123.1 628.3 2118.5 633.9 2113.9 639.6 2109.2 645.3 2104.5 650.9 2099.8 656.6 2095.0 662.2 2090.2 667.9 2085.3 673.5 2080.5 679.2 2075.6 684.8 2070.6 690.5 2065.7 696.1 2060.7 701.8 2055.7 707.4 2050.6 713.1 2045.5 718.7 2040.5 724.4 2035.3 730.1 2030.2 735.7 2025.1 741.4 2019.9 747.0 2014.7 752.7 2009.5 758.3 2004.2 764.0 1999.0 769.6 1993.7 775.3 1988.4 780.9 1983.1 786.6 1977.8 792.2 1972.5 797.9 1967.2 803.5 1961.8 809.2 1956.5 814.9 1951.1 820.5 1945.7 826.2 1940.4 831.8 1935.0 837.5 1929.6 843.1 1924.2 848.8 1918.8 854.4 1913.4 860.1 1908.0 865.7 1902.6 871.4 1897.2 877.0 1891.8 882.7 1886.4 888.3 1881.0 894.0 1875.6 899.7 1870.2 905.3 1864.8 911.0 1859.4 916.6 1854.0 922.3 1848.7 927.9 1843.3 933.6 1838.0 939.2 1832.6 944.9 1827.3 950.5 1822.0 956.2 1816.7 961.8 1811.4 967.5 1806.1 973.1 1800.9 978.8 1795.6 984.5 1790.4 990.1 1785.2 995.8 1780.0 1001.4 1774.8 1007.1 1769.7 1012.7 1764.6 1018.4 1759.5 1024.0 1754.4 1029.7 1749.3 1035.3 1744.3 1041.0 1739.3 1046.6 1734.3 1052.3 1729.4 1057.9 1724.4 1063.6 1719.5 1069.3 1714.7 1074.9 1709.8 1080.6 1705.0 1086.2 1700.3 1091.9 1695.5 1097.5 1690.8 1103.2 1686.1 1108.8 1681.5 1114.5 1676.9 1120.1 1672.3 1125.8 1667.8 1131.4 1663.3 1137.1 1658.9 1142.7 1654.4 1148.4 1650.1 1154.1 1645.7 1159.7 1641.4 1165.4 1637.2 1171.0 1633.0 1176.7 1628.8 1182.3 1624.7 1188.0 1620.6 1193.6 1616.6 1199.3 1612.6 1204.9 1608.7 1210.6 1604.8 1216.2 1601.0 1221.9 1597.2 1227.5 1593.4 1233.2 1589.7 1238.9 1586.1 1244.5 1582.5 1250.2 1579.0 1255.8 1575.5 1261.5 1572.1 1267.1 1568.7 1272.8 1565.3 1278.4 1562.1 1284.1 1558.9 1289.7 1555.7 1295.4 1552.6 1301.0 1549.5 1306.7 1546.5 1312.3 1543.6 1318.0 1540.7 1323.7 1537.9 1329.3 1535.1 1335.0 1532.4 1340.6 1529.8 1346.3 1527.2 1351.9 1524.7 1357.6 1522.2 1363.2 1519.8 1368.9 1517.5 1374.5 1515.2 1380.2 1513.0 1385.8 1510.8 1391.5 1508.7 1397.1 1506.7 1402.8 1504.7 1408.5 1502.8 1414.1 1501.0 1419.8 1499.2 1425.4 1497.5 1431.1 1495.8 1436.7 1494.2 1442.4 1492.7 1448.0 1491.3 1453.7 1489.9 1459.3 1488.5 1465.0 1487.3 1470.6 1486.1 1476.3 1484.9 1481.9 1483.9 1487.6 1482.9 1493.3 1481.9 1498.9 1481.0 1504.6 1480.2 1510.2 1479.5 1515.9 1478.8 1521.5 1478.2 1527.2 1477.7 1532.8 1477.2 1538.5 1476.8 1544.1 1476.4 1549.8 1476.1 1555.4 1475.9 1561.1 1475.7 1566.7 1475.6 1572.4 1475.6 1575.1 1475.6" stroke="#0000ff" stroke-width="5.2"/>
<path d="M211.2 2309.4 215.6 2309.4 221.3 2309.4 226.9 2309.2 232.6 2309.0 238.2 2308.7 243.9 2308.3 249.5 2307.9 255.2 2307.3 260.8 2306.7 266.5 2306.0 272.1 2305.2 277.8 2304.3 283.4 2303.3 289.1 2302.3 294.7 2301.2 300.4 2300.0 306.1 2298.8 311.7 2297.4 317.4 2296.0 323.0 2294.5 328.7 2293.0 334.3 2291.3 340.0 2289.6 345.6 2287.8 351.3 2286.0 356.9 2284.1 362.6 2282.1 368.2 2280.0 373.9 2277.9 379.5 2275.7 385.2 2273.4 390.9 2271.1 396.5 2268.7 402.2 2266.3 407.8 2263.7 413.5 2261.2 419.1 2258.5 424.8 2255.8 430.4 2253.0 436.1 2250.2 441.7 2247.3 447.4 2244.4 453.0 2241.4 458.7 2238.3 464.3 2235.2 470.0 2232.0 475.7 2228.8 481.3 2225.5 487.0 2222.2 492.6 2218.8 498.3 2215.3 503.9 2211.8 509.6 2208.3 515.2 2204.7 520.9 2201.0 526.5 2197.3 532.2 2193.6 537.8 2189.8 543.5 2186.0 549.1 2182.1 554.8 2178.2 560.5 2174.2 566.1 2170.2 571.8 2166.1 577.4 2162.0 583.1 2157.9 588.7 2153.7 594.4 2149.5 600.0 2145.2 605.7 2140.9 611.3 2136.5 617.0 2132.2 622.6 2127.8 628.3 2123.3 633.9 2118.8 639.6 2114.3 645.3 2109.8 650.9 2105.2 656.6 2100.6 662.2 2095.9 667.9 2091.3 673.5 2086.6 679.2 2081.8 684.8 2077.1 690.5 2072.3 696.1 2067.5 701.8 2062.6 707.4 2057.8 713.1 2052.9 718.7 2048.0 724.4 2043.0 730.1 2038.1 735.7 2033.1 741.4 2028.1 747.0 2023.1 752.7 2018.0 758.3 2013.0 764.0 2007.9 769.6 2002.8 775.3 1997.7 780.9 1992.6 786.6 1987.5 792.2 1982.3 797.9 1977.2 803.5 1972.0 809.2 1966.8 814.9 1961.6 820.5 1956.4 826.2 1951.2 831.8 1946.0 837.5 1940.8 843.1 1935.5 848.8 1930.3 854.4 1925.0 860.1 1919.8 865.7 1914.6 871.4 1909.3 877.0 1904.0 882.7 1898.8 888.3 1893.5 894.0 1888.3 899.7 1883.0 905.3 1877.8 911.0 1872.5 916.6 1867.3 922.3 1862.0 927.9 1856.8 933.6 1851.5 939.2 1846.3 944.9 1841.1 950.5 1835.9 956.2 1830.7 961.8 1825.5 967.5 1820.3 973.1 1815.1 978.8 1810.0 984.5 1804.8 990.1 1799.7 995.8 1794.6 1001.4 1789.4 1007.1 1784.4 1012.7 1779.3 1018.4 1774.2 1024.0 1769.2 1029.7 1764.2 1035.3 1759.1 1041.0 1754.2 1046.6 1749.2 1052.3 1744.3 1057.9 1739.3 1063.6 1734.4 1069.3 1729.6 1074.9 1724.7 1080.6 1719.9 1086.2 1715.1 1091.9 1710.3 1097.5 1705.6 1103.2 1700.9 1108.8 1696.2 1114.5 1691.5 1120.1 1686.9 1125.8 1682.3 1131.4 1677.8 1137.1 1673.2 1142.7 1668.7 1148.4 1664.3 1154.1 1659.8 1159.7 1655.4 1165.4 1651.1 1171.0 1646.8 1176.7 1642.5 1182.3 1638.2 1188.0 1634.0 1193.6 1629.9 1199.3 1625.7 1204.9 1621.6 1210.6 1617.6 1216.2 1613.6 1221.9 1609.6 1227.5 1605.7 1233.2 1601.8 1238.9 1598.0 1244.5 1594.2 1250.2 1590.5 1255.8 1586.8 1261.5 1583.2 1267.1 1579.6 1272.8 1576.1 1278.4 1572.6 1284.1 1569.1 1289.7 1565.7 1295.4 1562.4 1301.0 1559.1 1306.7 1555.9 1312.3 1552.7 1318.0 1549.6 1323.7 1546.5 1329.3 1543.5 1335.0 1540.6 1340.6 1537.7 1346.3 1534.8 1351.9 1532.0 1357.6 1529.3 1363.2 1526.7 1368.9 1524.1 1374.5 1521.5 1380.2 1519.0 1385.8 1516.6 1391.5 1514.3 1397.1 1512.0 1402.8 1509.8 1408.5 1507.6 1414.1 1505.5 1419.8 1503.5 1425.4 1501.5 1431.1 1499.6 1436.7 1497.8 1442.4 1496.0 1448.0 1494.3 1453.7 1492.7 1459.3 1491.1 1465.0 1489.7 1470.6 1488.2 1476.3 1486.9 1481.9 1485.6 1487.6 1484.4 1493.3 1483.3 1498.9 1482.3 1504.6 1481.3 1510.2 1480.4 1515.9 1479.6 1521.5 1478.8 1527.2 1478.2 1532.8 1477.6 1538.5 1477.0 1544.1 1476.6 1549.8 1476.2 1555.4 1476.0 1561.1 1475.8 1566.7 1475.6 1572.4 1475.6 1576.8 1475.6" stroke="#00ff00" stroke-width="8.6" stroke-opacity="0.5" stroke-dasharray="21.85 6.45" stroke-dashoffset="-0.50"/>
<path d="M212.9 2309.4 215.6 2309.4 221.3 2309.4 226.9 2309.2 232.6 2309.0 238.2 2308.7 243.9 2308.3 249.5 2307.9 255.2 2307.3 260.8 2306.7 266.5 2306.0 272.1 2305.2 277.8 2304.3 283.4 2303.3 289.1 2302.3 294.7 2301.2 300.4 2300.0 306.1 2298.8 311.7 2297.4 317.4 2296.0 323.0 2294.5 328.7 2293.0 334.3 2291.3 340.0 2289.6 345.6 2287.8 351.3 2286.0 356.9 2284.1 362.6 2282.1 368.2 2280.0 373.9 2277.9 379.5 2275.7 385.2 2273.4 390.9 2271.1 396.5 2268.7 402.2 2266.3 407.8 2263.7 413.5 2261.2 419.1 2258.5 424.8 2255.8 430.4 2253.0 436.1 2250.2 441.7 2247.3 447.4 2244.4 453.0 2241.4 458.7 2238.3 464.3 2235.2 470.0 2232.0 475.7 2228.8 481.3 2225.5 487.0 2222.2 492.6 2218.8 498.3 2215.3 503.9 2211.8 509.6 2208.3 515.2 2204.7 520.9 2201.0 526.5 2197.3 532.2 2193.6 537.8 2189.8 543.5 2186.0 549.1 2182.1 554.8 2178.2 560.5 2174.2 566.1 2170.2 571.8 2166.1 577.4 2162.0 583.1 2157.9 588.7 2153.7 594.4 2149.5 600.0 2145.2 605.7 2140.9 611.3 2136.5 617.0 2132.2 622.6 2127.8 628.3 2123.3 633.9 2118.8 639.6 2114.3 645.3 2109.8 650.9 2105.2 656.6 2100.6 662.2 2095.9 667.9 2091.3 673.5 2086.6 679.2 2081.8 684.8 2077.1 690.5 2072.3 696.1 2067.5 701.8 2062.6 707.4 2057.8 713.1 2052.9 718.7 2048.0 724.4 2043.0 730.1 2038.1 735.7 2033.1 741.4 2028.1 747.0 2023.1 752.7 2018.0 758.3 2013.0 764.0 2007.9 769.6 2002.8 775.3 1997.7 780.9 1992.6 786.6 1987.5 792.2 1982.3 797.9 1977.2 803.5 1972.0 809.2 1966.8 814.9 1961.6 820.5 1956.4 826.2 1951.2 831.8 1946.0 837.5 1940.8 843.1 1935.5 848.8 1930.3 854.4 1925.0 860.1 1919.8 865.7 1914.6 871.4 1909.3 877.0 1904.0 882.7 1898.8 888.3 1893.5 894.0 1888.3 899.7 1883.0 905.3 1877.8 911.0 1872.5 916.6 1867.3 922.3 1862.0 927.9 1856.8 933.6 1851.5 939.2 1846.3 944.9 1841.1 950.5 1835.9 956.2 1830.7 961.8 1825.5 967.5 1820.3 973.1 1815.1 978.8 1810.0 984.5 1804.8 990.1 1799.7 995.8 1794.6 1001.4 1789.4 1007.1 1784.4 1012.7 1779.3 1018.4 1774.2 1024.0 1769.2 1029.7 1764.2 1035.3 1759.1 1041.0 1754.2 1046.6 1749.2 1052.3 1744.3 1057.9 1739.3 1063.6 1734.4 1069.3 1729.6 1074.9 1724.7 1080.6 1719.9 1086.2 1715.1 1091.9 1710.3 1097.5 1705.6 1103.2 1700.9 1108.8 1696.2 1114.5 1691.5 1120.1 1686.9 1125.8 1682.3 1131.4 1677.8 1137.1 1673.2 1142.7 1668.7 1148.4 1664.3 1154.1 1659.8 1159.7 1655.4 1165.4 1651.1 1171.0 1646.8 1176.7 1642.5 1182.3 1638.2 1188.0 1634.0 1193.6 1629.9 1199.3 1625.7 1204.9 1621.6 1210.6 1617.6 1216.2 1613.6 1221.9 1609.6 1227.5 1605.7 1233.2 1601.8 1238.9 1598.0 1244.5 1594.2 1250.2 1590.5 1255.8 1586.8 1261.5 1583.2 1267.1 1579.6 1272.8 1576.1 1278.4 1572.6 1284.1 1569.1 1289.7 1565.7 1295.4 1562.4 1301.0 1559.1 1306.7 1555.9 1312.3 1552.7 1318.0 1549.6 1323.7 1546.5 1329.3 1543.5 1335.0 1540.6 1340.6 1537.7 1346.3 1534.8 1351.9 1532.0 1357.6 1529.3 1363.2 1526.7 1368.9 1524.1 1374.5 1521.5 1380.2 1519.0 1385.8 1516.6 1391.5 1514.3 1397.1 1512.0 1402.8 1509.8 1408.5 1507.6 1414.1 1505.5 1419.8 1503.5 1425.4 1501.5 1431.1 1499.6 1436.7 1497.8 1442.4 1496.0 1448.0 1494.3 1453.7 1492.7 1459.3 1491.1 1465.0 1489.7 1470.6 1488.2 1476.3 1486.9 1481.9 1485.6 1487.6 1484.4 1493.3 1483.3 1498.9 1482.3 1504.6 1481.3 1510.2 1480.4 1515.9 1479.6 1521.5 1478.8 1527.2 1478.2 1532.8 1477.6 1538.5 1477.0 1544.1 1476.6 1549.8 1476.2 1555.4 1476.0 1561.1 1475.8 1566.7 1475.6 1572.4 1475.6 1575.1 1475.6" stroke="#00ff00" stroke-width="5.2" stroke-dasharray="18.45 9.85" stroke-dashoffset="-0.50"/>
<path d="M211.2 2309.4 215.6 2309.4 221.3 2309.4 226.9 2309.2 232.6 2309.0 238.2 2308.7 243.9 2308.3 249.5 2307.9 255.2 2307.3 260.8 2306.7 266.5 2306.0 272.1 2305.2 277.8 2304.3 283.4 2303.4 289.1 2302.3 294.7 2301.2 300.4 2300.1 306.1 2298.8 311.7 2297.5 317.4 2296.1 323.0 2294.6 328.7 2293.1 334.3 2291.5 340.0 2289.8 345.6 2288.0 351.3 2286.2 356.9 2284.3 362.6 2282.4 368.2 2280.3 373.9 2278.3 379.5 2276.1 385.2 2273.9 390.9 2271.6 396.5 2269.3 402.2 2266.9 407.8 2264.4 413.5 2261.9 419.1 2259.3 424.8 2256.6 430.4 2253.9 436.1 2251.2 441.7 2248.4 447.4 2245.5 453.0 2242.6 458.7 2239.6 464.3 2236.5 470.0 2233.5 475.7 2230.3 481.3 2227.1 487.0 2223.9 492.6 2220.6 498.3 2217.3 503.9 2213.9 509.6 2210.4 515.2 2207.0 520.9 2203.4 526.5 2199.9 532.2 2196.2 537.8 2192.6 543.5 2188.9 549.1 2185.1 554.8 2181.3 560.5 2177.5 566.1 2173.6 571.8 2169.7 577.4 2165.8 583.1 2161.8 588.7 2157.8 594.4 2153.7 600.0 2149.6 605.7 2145.5 611.3 2141.3 617.0 2137.1 622.6 2132.8 628.3 2128.6 633.9 2124.3 639.6 2119.9 645.3 2115.5 650.9 2111.1 656.6 2106.7 662.2 2102.3 667.9 2097.8 673.5 2093.3 679.2 2088.7 684.8 2084.1 690.5 2079.5 696.1 2074.9 701.8 2070.3 707.4 2065.6 713.1 2060.9 718.7 2056.2 724.4 2051.5 730.1 2046.7 735.7 2041.9 741.4 2037.1 747.0 2032.3 752.7 2027.5 758.3 2022.6 764.0 2017.7 769.6 2012.9 775.3 2007.9 780.9 2003.0 786.6 1998.1 792.2 1993.1 797.9 1988.2 803.5 1983.2 809.2 1978.2 814.9 1973.2 820.5 1968.2 826.2 1963.1 831.8 1958.1 837.5 1953.1 843.1 1948.0 848.8 1942.9 854.4 1937.9 860.1 1932.8 865.7 1927.7 871.4 1922.6 877.0 1917.5 882.7 1912.4 888.3 1907.3 894.0 1902.2 899.7 1897.1 905.3 1892.0 911.0 1886.9 916.6 1881.8 922.3 1876.7 927.9 1871.6 933.6 1866.5 939.2 1861.4 944.9 1856.3 950.5 1851.2 956.2 1846.1 961.8 1841.0 967.5 1835.9 973.1 1830.8 978.8 1825.7 984.5 1820.7 990.1 1815.6 995.8 1810.6 1001.4 1805.5 1007.1 1800.5 1012.7 1795.5 1018.4 1790.5 1024.0 1785.5 1029.7 1780.5 1035.3 1775.5 1041.0 1770.5 1046.6 1765.6 1052.3 1760.7 1057.9 1755.8 1063.6 1750.9 1069.3 1746.0 1074.9 1741.1 1080.6 1736.3 1086.2 1731.4 1091.9 1726.6 1097.5 1721.9 1103.2 1717.1 1108.8 1712.4 1114.5 1707.6 1120.1 1703.0 1125.8 1698.3 1131.4 1693.6 1137.1 1689.0 1142.7 1684.4 1148.4 1679.9 1154.1 1675.3 1159.7 1670.8 1165.4 1666.3 1171.0 1661.9 1176.7 1657.5 1182.3 1653.1 1188.0 1648.7 1193.6 1644.4 1199.3 1640.1 1204.9 1635.9 1210.6 1631.7 1216.2 1627.5 1221.9 1623.3 1227.5 1619.2 1233.2 1615.2 1238.9 1611.1 1244.5 1607.1 1250.2 1603.2 1255.8 1599.3 1261.5 1595.4 1267.1 1591.6 1272.8 1587.8 1278.4 1584.1 1284.1 1580.4 1289.7 1576.8 1295.4 1573.2 1301.0 1569.7 1306.7 1566.2 1312.3 1562.7 1318.0 1559.3 1323.7 1556.0 1329.3 1552.7 1335.0 1549.5 1340.6 1546.3 1346.3 1543.2 1351.9 1540.1 1357.6 1537.1 1363.2 1534.2 1368.9 1531.3 1374.5 1528.5 1380.2 1525.7 1385.8 1523.0 1391.5 1520.4 1397.1 1517.8 1402.8 1515.3 1408.5 1512.8 1414.1 1510.5 1419.8 1508.2 1425.4 1505.9 1431.1 1503.8 1436.7 1501.7 1442.4 1499.6 1448.0 1497.7 1453.7 1495.8 1459.3 1494.0 1465.0 1492.3 1470.6 1490.6 1476.3 1489.1 1481.9 1487.6 1487.6 1486.2 1493.3 1484.9 1498.9 1483.6 1504.6 1482.5 1510.2 1481.4 1515.9 1480.4 1521.5 1479.5 1527.2 1478.7 1532.8 1478.0 1538.5 1477.4 1544.1 1476.8 1549.8 1476.4 1555.4 1476.0 1561.1 1475.8 1566.7 1475.6 1572.4 1475.6 1576.8 1475.6" stroke="#ff0000" stroke-width="8.6" stroke-opacity="0.5" stroke-dasharray="35.99 20.59" stroke-dashoffset="-0.50"/>
<path d="M212.9 2309.4 215.6 2309.4 221.3 2309.4 226.9 2309.2 232.6 2309.0 238.2 2308.7 243.9 2308.3 249.5 2307.9 255.2 2307.3 260.8 2306.7 266.5 2306.0 272.1 2305.2 277.8 2304.3 283.4 2303.4 289.1 2302.3 294.7 2301.2 300.4 2300.1 306.1 2298.8 311.7 2297.5 317.4 2296.1 323.0 2294.6 328.7 2293.1 334.3 2291.5 340.0 2289.8 345.6 2288.0 351.3 2286.2 356.9 2284.3 362.6 2282.4 368.2 2280.3 373.9 2278.3 379.5 2276.1 385.2 2273.9 390.9 2271.6 396.5 2269.3 402.2 2266.9 407.8 2264.4 413.5 2261.9 419.1 2259.3 424.8 2256.6 430.4 2253.9 436.1 2251.2 441.7 2248.4 447.4 2245.5 453.0 2242.6 458.7 2239.6 464.3 2236.5 470.0 2233.5 475.7 2230.3 481.3 2227.1 487.0 2223.9 492.6 2220.6 498.3 2217.3 503.9 2213.9 509.6 2210.4 515.2 2207.0 520.9 2203.4 526.5 2199.9 532.2 2196.2 537.8 2192.6 543.5 2188.9 549.1 2185.1 554.8 2181.3 560.5 2177.5 566.1 2173.6 571.8 2169.7 577.4 2165.8 583.1 2161.8 588.7 2157.8 594.4 2153.7 600.0 2149.6 605.7 2145.5 611.3 2141.3 617.0 2137.1 622.6 2132.8 628.3 2128.6 633.9 2124.3 639.6 2119.9 645.3 2115.5 650.9 2111.1 656.6 2106.7 662.2 2102.3 667.9 2097.8 673.5 2093.3 679.2 2088.7 684.8 2084.1 690.5 2079.5 696.1 2074.9 701.8 2070.3 707.4 2065.6 713.1 2060.9 718.7 2056.2 724.4 2051.5 730.1 2046.7 735.7 2041.9 741.4 2037.1 747.0 2032.3 752.7 2027.5 758.3 2022.6 764.0 2017.7 769.6 2012.9 775.3 2007.9 780.9 2003.0 786.6 1998.1 792.2 1993.1 797.9 1988.2 803.5 1983.2 809.2 1978.2 814.9 1973.2 820.5 1968.2 826.2 1963.1 831.8 1958.1 837.5 1953.1 843.1 1948.0 848.8 1942.9 854.4 1937.9 860.1 1932.8 865.7 1927.7 871.4 1922.6 877.0 1917.5 882.7 1912.4 888.3 1907.3 894.0 1902.2 899.7 1897.1 905.3 1892.0 911.0 1886.9 916.6 1881.8 922.3 1876.7 927.9 1871.6 933.6 1866.5 939.2 1861.4 944.9 1856.3 950.5 1851.2 956.2 1846.1 961.8 1841.0 967.5 1835.9 973.1 1830.8 978.8 1825.7 984.5 1820.7 990.1 1815.6 995.8 1810.6 1001.4 1805.5 1007.1 1800.5 1012.7 1795.5 1018.4 1790.5 1024.0 1785.5 1029.7 1780.5 1035.3 1775.5 1041.0 1770.5 1046.6 1765.6 1052.3 1760.7 1057.9 1755.8 1063.6 1750.9 1069.3 1746.0 1074.9 1741.1 1080.6 1736.3 1086.2 1731.4 1091.9 1726.6 1097.5 1721.9 1103.2 1717.1 1108.8 1712.4 1114.5 1707.6 1120.1 1703.0 1125.8 1698.3 1131.4 1693.6 1137.1 1689.0 1142.7 1684.4 1148.4 1679.9 1154.1 1675.3 1159.7 1670.8 1165.4 1666.3 1171.0 1661.9 1176.7 1657.5 1182.3 1653.1 1188.0 1648.7 1193.6 1644.4 1199.3 1640.1 1204.9 1635.9 1210.6 1631.7 1216.2 1627.5 1221.9 1623.3 1227.5 1619.2 1233.2 1615.2 1238.9 1611.1 1244.5 1607.1 1250.2 1603.2 1255.8 1599.3 1261.5 1595.4 1267.1 1591.6 1272.8 1587.8 1278.4 1584.1 1284.1 1580.4 1289.7 1576.8 1295.4 1573.2 1301.0 1569.7 1306.7 1566.2 1312.3 1562.7 1318.0 1559.3 1323.7 1556.0 1329.3 1552.7 1335.0 1549.5 1340.6 1546.3 1346.3 1543.2 1351.9 1540.1 1357.6 1537.1 1363.2 1534.2 1368.9 1531.3 1374.5 1528.5 1380.2 1525.7 1385.8 1523.0 1391.5 1520.4 1397.1 1517.8 1402.8 1515.3 1408.5 1512.8 1414.1 1510.5 1419.8 1508.2 1425.4 1505.9 1431.1 1503.8 1436.7 1501.7 1442.4 1499.6 1448.0 1497.7 1453.7 1495.8 1459.3 1494.0 1465.0 1492.3 1470.6 1490.6 1476.3 1489.1 1481.9 1487.6 1487.6 1486.2 1493.3 1484.9 1498.9 1483.6 1504.6 1482.5 1510.2 1481.4 1515.9 1480.4 1521.5 1479.5 1527.2 1478.7 1532.8 1478.0 1538.5 1477.4 1544.1 1476.8 1549.8 1476.4 1555.4 1476.0 1561.1 1475.8 1566.7 1475.6 1572.4 1475.6 1575.1 1475.6" stroke="#ff0000" stroke-width="5.2" stroke-dasharray="32.59 23.99" stroke-dashoffset="-0.50"/>
<path d="M211.2 2309.4 215.6 2309.4 221.3 2309.4 226.9 2309.2 232.6 2309.0 238.2 2308.7 243.9 2308.3 249.5 2307.9 255.2 2307.3 260.8 2306.7 266.5 2306.0 272.1 2305.2 277.8 2304.3 283.4 2303.4 289.1 2302.4 294.7 2301.3 300.4 2300.1 306.1 2298.9 311.7 2297.6 317.4 2296.2 323.0 2294.7 328.7 2293.2 334.3 2291.6 340.0 2289.9 345.6 2288.2 351.3 2286.4 356.9 2284.6 362.6 2282.6 368.2 2280.6 373.9 2278.6 379.5 2276.5 385.2 2274.3 390.9 2272.1 396.5 2269.8 402.2 2267.4 407.8 2265.0 413.5 2262.5 419.1 2260.0 424.8 2257.4 430.4 2254.8 436.1 2252.1 441.7 2249.3 447.4 2246.5 453.0 2243.7 458.7 2240.8 464.3 2237.8 470.0 2234.8 475.7 2231.8 481.3 2228.7 487.0 2225.5 492.6 2222.3 498.3 2219.1 503.9 2215.8 509.6 2212.5 515.2 2209.1 520.9 2205.7 526.5 2202.2 532.2 2198.7 537.8 2195.2 543.5 2191.6 549.1 2188.0 554.8 2184.3 560.5 2180.6 566.1 2176.9 571.8 2173.1 577.4 2169.3 583.1 2165.5 588.7 2161.6 594.4 2157.7 600.0 2153.7 605.7 2149.7 611.3 2145.7 617.0 2141.7 622.6 2137.6 628.3 2133.5 633.9 2129.3 639.6 2125.2 645.3 2121.0 650.9 2116.7 656.6 2112.5 662.2 2108.2 667.9 2103.9 673.5 2099.6 679.2 2095.2 684.8 2090.8 690.5 2086.4 696.1 2081.9 701.8 2077.5 707.4 2073.0 713.1 2068.5 718.7 2064.0 724.4 2059.4 730.1 2054.8 735.7 2050.2 741.4 2045.6 747.0 2041.0 752.7 2036.3 758.3 2031.7 764.0 2027.0 769.6 2022.3 775.3 2017.5 780.9 2012.8 786.6 2008.1 792.2 2003.3 797.9 1998.5 803.5 1993.7 809.2 1988.9 814.9 1984.1 820.5 1979.2 826.2 1974.4 831.8 1969.5 837.5 1964.6 843.1 1959.7 848.8 1954.8 854.4 1949.9 860.1 1945.0 865.7 1940.1 871.4 1935.2 877.0 1930.2 882.7 1925.3 888.3 1920.3 894.0 1915.4 899.7 1910.4 905.3 1905.4 911.0 1900.4 916.6 1895.5 922.3 1890.5 927.9 1885.5 933.6 1880.5 939.2 1875.5 944.9 1870.5 950.5 1865.5 956.2 1860.5 961.8 1855.5 967.5 1850.5 973.1 1845.5 978.8 1840.6 984.5 1835.6 990.1 1830.6 995.8 1825.6 1001.4 1820.6 1007.1 1815.6 1012.7 1810.7 1018.4 1805.7 1024.0 1800.7 1029.7 1795.8 1035.3 1790.9 1041.0 1785.9 1046.6 1781.0 1052.3 1776.1 1057.9 1771.2 1063.6 1766.3 1069.3 1761.4 1074.9 1756.5 1080.6 1751.6 1086.2 1746.8 1091.9 1742.0 1097.5 1737.1 1103.2 1732.3 1108.8 1727.6 1114.5 1722.8 1120.1 1718.0 1125.8 1713.3 1131.4 1708.6 1137.1 1703.9 1142.7 1699.2 1148.4 1694.5 1154.1 1689.9 1159.7 1685.3 1165.4 1680.7 1171.0 1676.1 1176.7 1671.6 1182.3 1667.0 1188.0 1662.6 1193.6 1658.1 1199.3 1653.7 1204.9 1649.2 1210.6 1644.9 1216.2 1640.5 1221.9 1636.2 1227.5 1631.9 1233.2 1627.7 1238.9 1623.4 1244.5 1619.3 1250.2 1615.1 1255.8 1611.0 1261.5 1606.9 1267.1 1602.9 1272.8 1598.9 1278.4 1594.9 1284.1 1591.0 1289.7 1587.2 1295.4 1583.3 1301.0 1579.6 1306.7 1575.8 1312.3 1572.1 1318.0 1568.5 1323.7 1564.9 1329.3 1561.4 1335.0 1557.9 1340.6 1554.4 1346.3 1551.1 1351.9 1547.7 1357.6 1544.5 1363.2 1541.3 1368.9 1538.1 1374.5 1535.0 1380.2 1532.0 1385.8 1529.0 1391.5 1526.1 1397.1 1523.3 1402.8 1520.5 1408.5 1517.8 1414.1 1515.1 1419.8 1512.6 1425.4 1510.1 1431.1 1507.7 1436.7 1505.3 1442.4 1503.0 1448.0 1500.8 1453.7 1498.7 1459.3 1496.7 1465.0 1494.7 1470.6 1492.9 1476.3 1491.1 1481.9 1489.4 1487.6 1487.8 1493.3 1486.3 1498.9 1484.9 1504.6 1483.5 1510.2 1482.3 1515.9 1481.2 1521.5 1480.1 1527.2 1479.2 1532.8 1478.4 1538.5 1477.7 1544.1 1477.0 1549.8 1476.5 1555.4 1476.1 1561.1 1475.8 1566.7 1475.7 1572.4 1475.6 1576.8 1475.6" stroke="#ff00ff" stroke-width="8.6" stroke-opacity="0.5" stroke-dasharray="50.14 34.74" stroke-dashoffset="-0.50"/>
<path d="M212.9 2309.4 215.6 2309.4 221.3 2309.4 226.9 2309.2 232.6 2309.0 238.2 2308.7 243.9 2308.3 249.5 2307.9 255.2 2307.3 260.8 2306.7 266.5 2306.0 272.1 2305.2 277.8 2304.3 283.4 2303.4 289.1 2302.4 294.7 2301.3 300.4 2300.1 306.1 2298.9 311.7 2297.6 317.4 2296.2 323.0 2294.7 328.7 2293.2 334.3 2291.6 340.0 2289.9 345.6 2288.2 351.3 2286.4 356.9 2284.6 362.6 2282.6 368.2 2280.6 373.9 2278.6 379.5 2276.5 385.2 2274.3 390.9 2272.1 396.5 2269.8 402.2 2267.4 407.8 2265.0 413.5 2262.5 419.1 2260.0 424.8 2257.4 430.4 2254.8 436.1 2252.1 441.7 2249.3 447.4 2246.5 453.0 2243.7 458.7 2240.8 464.3 2237.8 470.0 2234.8 475.7 2231.8 481.3 2228.7 487.0 2225.5 492.6 2222.3 498.3 2219.1 503.9 2215.8 509.6 2212.5 515.2 2209.1 520.9 2205.7 526.5 2202.2 532.2 2198.7 537.8 2195.2 543.5 2191.6 549.1 2188.0 554.8 2184.3 560.5 2180.6 566.1 2176.9 571.8 2173.1 577.4 2169.3 583.1 2165.5 588.7 2161.6 594.4 2157.7 600.0 2153.7 605.7 2149.7 611.3 2145.7 617.0 2141.7 622.6 2137.6 628.3 2133.5 633.9 2129.3 639.6 2125.2 645.3 2121.0 650.9 2116.7 656.6 2112.5 662.2 2108.2 667.9 2103.9 673.5 2099.6 679.2 2095.2 684.8 2090.8 690.5 2086.4 696.1 2081.9 701.8 2077.5 707.4 2073.0 713.1 2068.5 718.7 2064.0 724.4 2059.4 730.1 2054.8 735.7 2050.2 741.4 2045.6 747.0 2041.0 752.7 2036.3 758.3 2031.7 764.0 2027.0 769.6 2022.3 775.3 2017.5 780.9 2012.8 786.6 2008.1 792.2 2003.3 797.9 1998.5 803.5 1993.7 809.2 1988.9 814.9 1984.1 820.5 1979.2 826.2 1974.4 831.8 1969.5 837.5 1964.6 843.1 1959.7 848.8 1954.8 854.4 1949.9 860.1 1945.0 865.7 1940.1 871.4 1935.2 877.0 1930.2 882.7 1925.3 888.3 1920.3 894.0 1915.4 899.7 1910.4 905.3 1905.4 911.0 1900.4 916.6 1895.5 922.3 1890.5 927.9 1885.5 933.6 1880.5 939.2 1875.5 944.9 1870.5 950.5 1865.5 956.2 1860.5 961.8 1855.5 967.5 1850.5 973.1 1845.5 978.8 1840.6 984.5 1835.6 990.1 1830.6 995.8 1825.6 1001.4 1820.6 1007.1 1815.6 1012.7 1810.7 1018.4 1805.7 1024.0 1800.7 1029.7 1795.8 1035.3 1790.9 1041.0 1785.9 1046.6 1781.0 1052.3 1776.1 1057.9 1771.2 1063.6 1766.3 1069.3 1761.4 1074.9 1756.5 1080.6 1751.6 1086.2 1746.8 1091.9 1742.0 1097.5 1737.1 1103.2 1732.3 1108.8 1727.6 1114.5 1722.8 1120.1 1718.0 1125.8 1713.3 1131.4 1708.6 1137.1 1703.9 1142.7 1699.2 1148.4 1694.5 1154.1 1689.9 1159.7 1685.3 1165.4 1680.7 1171.0 1676.1 1176.7 1671.6 1182.3 1667.0 1188.0 1662.6 1193.6 1658.1 1199.3 1653.7 1204.9 1649.2 1210.6 1644.9 1216.2 1640.5 1221.9 1636.2 1227.5 1631.9 1233.2 1627.7 1238.9 1623.4 1244.5 1619.3 1250.2 1615.1 1255.8 1611.0 1261.5 1606.9 1267.1 1602.9 1272.8 1598.9 1278.4 1594.9 1284.1 1591.0 1289.7 1587.2 1295.4 1583.3 1301.0 1579.6 1306.7 1575.8 1312.3 1572.1 1318.0 1568.5 1323.7 1564.9 1329.3 1561.4 1335.0 1557.9 1340.6 1554.4 1346.3 1551.1 1351.9 1547.7 1357.6 1544.5 1363.2 1541.3 1368.9 1538.1 1374.5 1535.0 1380.2 1532.0 1385.8 1529.0 1391.5 1526.1 1397.1 1523.3 1402.8 1520.5 1408.5 1517.8 1414.1 1515.1 1419.8 1512.6 1425.4 1510.1 1431.1 1507.7 1436.7 1505.3 1442.4 1503.0 1448.0 1500.8 1453.7 1498.7 1459.3 1496.7 1465.0 1494.7 1470.6 1492.9 1476.3 1491.1 1481.9 1489.4 1487.6 1487.8 1493.3 1486.3 1498.9 1484.9 1504.6 1483.5 1510.2 1482.3 1515.9 1481.2 1521.5 1480.1 1527.2 1479.2 1532.8 1478.4 1538.5 1477.7 1544.1 1477.0 1549.8 1476.5 1555.4 1476.1 1561.1 1475.8 1566.7 1475.7 1572.4 1475.6 1575.1 1475.6" stroke="#ff00ff" stroke-width="5.2" stroke-dasharray="46.74 38.14" stroke-dashoffset="-0.50"/>
</g>
<rect x="186.6" y="1458.4" width="1414.7" height="867.9" fill="none" stroke="#000" stroke-width="3.2"/>
<path d="M215.6 2326.3v-16M215.6 1458.4v16M283.44 2326.3v-10M283.44 1458.4v10M351.28 2326.3v-10M351.28 1458.4v10M419.12 2326.3v-10M419.12 1458.4v10M486.96 2326.3v-16M486.96 1458.4v16M554.8 2326.3v-10M554.8 1458.4v10M622.64 2326.3v-10M622.64 1458.4v10M690.48 2326.3v-10M690.48 1458.4v10M758.32 2326.3v-16M758.32 1458.4v16M826.16 2326.3v-10M826.16 1458.4v10M894 2326.3v-10M894 1458.4v10M961.84 2326.3v-10M961.84 1458.4v10M1029.68 2326.3v-16M1029.68 1458.4v16M1097.52 2326.3v-10M1097.52 1458.4v10M1165.36 2326.3v-10M1165.36 1458.4v10M1233.2 2326.3v-10M1233.2 1458.4v10M1301.04 2326.3v-16M1301.04 1458.4v16M1368.88 2326.3v-10M1368.88 1458.4v10M1436.72 2326.3v-10M1436.72 1458.4v10M1504.56 2326.3v-10M1504.56 1458.4v10M1572.4 2326.3v-16M1572.4 1458.4v16M186.6 2309.4h16M1601.3 2309.4h-18.5M186.6 2276.05h10M1601.3 2276.05h-12.5M186.6 2242.7h10M1601.3 2242.7h-12.5M186.6 2209.34h10M1601.3 2209.34h-12.5M186.6 2175.99h10M1601.3 2175.99h-12.5M186.6 2142.64h16M1601.3 2142.64h-18.5M186.6 2109.29h10M1601.3 2109.29h-12.5M186.6 2075.94h10M1601.3 2075.94h-12.5M186.6 2042.58h10M1601.3 2042.58h-12.5M186.6 2009.23h10M1601.3 2009.23h-12.5M186.6 1975.88h16M1601.3 1975.88h-18.5M186.6 1942.53h10M1601.3 1942.53h-12.5M186.6 1909.18h10M1601.3 1909.18h-12.5M186.6 1875.82h10M1601.3 1875.82h-12.5M186.6 1842.47h10M1601.3 1842.47h-12.5M186.6 1809.12h16M1601.3 1809.12h-18.5M186.6 1775.77h10M1601.3 1775.77h-12.5M186.6 1742.42h10M1601.3 1742.42h-12.5M186.6 1709.06h10M1601.3 1709.06h-12.5M186.6 1675.71h10M1601.3 1675.71h-12.5M186.6 1642.36h16M1601.3 1642.36h-18.5M186.6 1609.01h10M1601.3 1609.01h-12.5M186.6 1575.66h10M1601.3 1575.66h-12.5M186.6 1542.3h10M1601.3 1542.3h-12.5M186.6 1508.95h10M1601.3 1508.95h-12.5M186.6 1475.6h16M1601.3 1475.6h-18.5" fill="none" stroke="#000" stroke-width="3.1"/>
<g font-family="'Liberation Serif','DejaVu Serif',serif" font-size="42.5" fill="#000" stroke="#000" stroke-width="0.7" filter="url(#softt)">
<text transform="translate(214.6 2377.5) scale(0.98 1)" text-anchor="middle">0.0</text>
<text transform="translate(485.96 2377.5) scale(0.98 1)" text-anchor="middle">0.2</text>
<text transform="translate(757.32 2377.5) scale(0.98 1)" text-anchor="middle">0.4</text>
<text transform="translate(1028.68 2377.5) scale(0.98 1)" text-anchor="middle">0.6</text>
<text transform="translate(1300.04 2377.5) scale(0.98 1)" text-anchor="middle">0.8</text>
<text transform="translate(1571.4 2377.5) scale(0.98 1)" text-anchor="middle">1.0</text>
<text transform="translate(170.6 2322.1) scale(0.98 1)" text-anchor="end">0.0</text>
<text transform="translate(170.6 2155.34) scale(0.98 1)" text-anchor="end">0.1</text>
<text transform="translate(170.6 1988.58) scale(0.98 1)" text-anchor="end">0.2</text>
<text transform="translate(170.6 1821.82) scale(0.98 1)" text-anchor="end">0.3</text>
<text transform="translate(170.6 1655.06) scale(0.98 1)" text-anchor="end">0.4</text>
<text transform="translate(170.6 1488.3) scale(0.98 1)" text-anchor="end">0.5</text>
<text x="890" y="2443" text-anchor="middle" font-style="italic" font-size="43" stroke="none">η</text>
<text transform="translate(86 1892.3) rotate(-90)" text-anchor="middle" font-size="44" stroke="none">f(<tspan font-style="italic">η</tspan>)</text>
</g>
<rect x="1197.3" y="1792.5" width="327.7" height="408" fill="#fff" stroke="#000" stroke-width="3"/>
<g fill="none" stroke-width="3">
<path d="M1210.4 1850.2h40.8" stroke="#0000ff" stroke-dasharray="14 3 17.5 3 3.5 100"/>
<path d="M1210.4 1949h43.3" stroke="#00ff00"/>
<path d="M1210.4 2044.8h40.8" stroke="#ff0000" stroke-dasharray="17 6 17.5 100"/>
<path d="M1210.4 2143.3h40.8" stroke="#ff00ff" stroke-dasharray="23 11.5 6 100"/>
</g>
<g font-family="'Liberation Serif','DejaVu Serif',serif" font-size="42.5" fill="#000" stroke="#000" stroke-width="0.7" filter="url(#softt)">
<text x="1303.5" y="1863.2"><tspan>k2</tspan> <tspan x="1356.85" y="1869.4" font-weight="bold" font-size="48" stroke-width="0.4">=</tspan> <tspan x="1394.1" y="1863.2">1.5</tspan></text>
<text x="1303.5" y="1961.6"><tspan>k2</tspan> <tspan x="1367.65" y="1967.8" font-weight="bold" font-size="48" stroke-width="0.4">=</tspan> <tspan x="1404.9" y="1961.6">2.5</tspan></text>
<text x="1303.5" y="2061.1"><tspan>k2</tspan> <tspan x="1356.85" y="2067.3" font-weight="bold" font-size="48" stroke-width="0.4">=</tspan> <tspan x="1394.1" y="2061.1">3.5</tspan></text>
<text x="1303.5" y="2156.9"><tspan>k2</tspan> <tspan x="1367.65" y="2163.1" font-weight="bold" font-size="48" stroke-width="0.4">=</tspan> <tspan x="1404.9" y="2156.9">4.5</tspan></text>
</g>
<text y="1327.7" font-family="'Liberation Serif','DejaVu Serif',serif" font-size="86" fill="#000"><tspan x="26">(</tspan><tspan x="53.56" font-weight="bold" font-size="86">b</tspan><tspan x="103.4">)</tspan></text>
</g>
</svg>
</body>
</html>
